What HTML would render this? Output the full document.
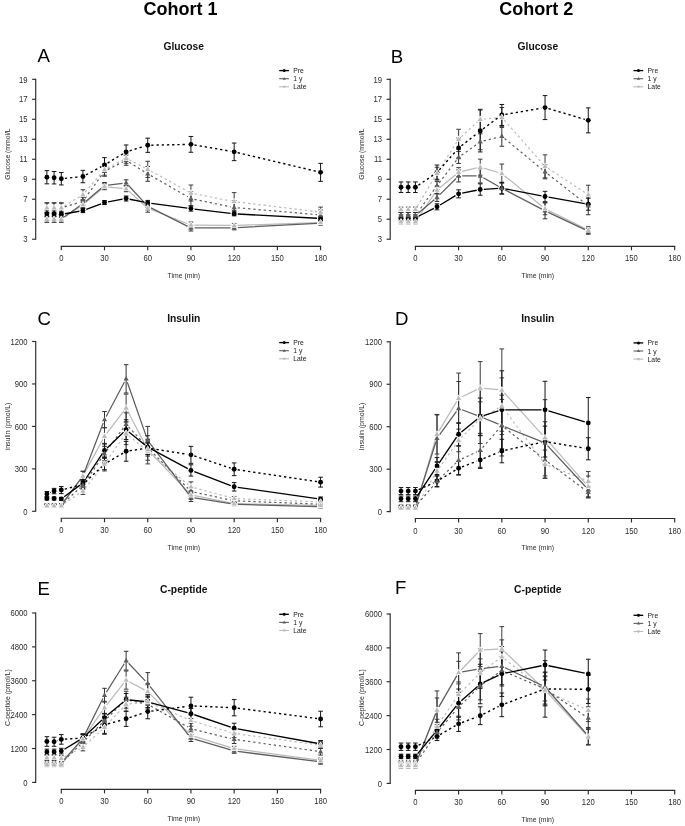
<!DOCTYPE html>
<html><head><meta charset="utf-8"><title>Cohort figure</title>
<style>
html,body{margin:0;padding:0;background:#fff;}
body{width:685px;height:826px;overflow:hidden;}
svg{display:block;will-change:transform;}
text{font-family:"Liberation Sans", sans-serif;}
.ax{stroke:#2a2a2a;stroke-width:1.15;fill:none;stroke-linecap:butt}
.tk{font-size:7.7px;fill:#2b2b2b}
.lab{font-size:7.0px;fill:#2b2b2b}
.lg{font-size:6.8px;fill:#1a1a1a}
.ti{font-size:10.3px;font-weight:bold;fill:#111}
.lt{font-size:18.6px;fill:#000}
.co{font-size:18px;font-weight:bold;fill:#000}
</style></head>
<body>
<svg width="685" height="826" viewBox="0 0 685 826">
<text x="180.6" y="14.5" class="co" text-anchor="middle">Cohort 1</text>
<text x="536.2" y="14.5" class="co" text-anchor="middle">Cohort 2</text>
<path d="M35.7 78.75V239.75" class="ax"/>
<path d="M32.1 239.2H35.7" class="ax"/>
<text transform="translate(27.6 242.4) scale(1.0 1.12)" class="tk" text-anchor="end">3</text>
<path d="M32.1 219.21H35.7" class="ax"/>
<text transform="translate(27.6 222.41) scale(1.0 1.12)" class="tk" text-anchor="end">5</text>
<path d="M32.1 199.22H35.7" class="ax"/>
<text transform="translate(27.6 202.42) scale(1.0 1.12)" class="tk" text-anchor="end">7</text>
<path d="M32.1 179.24H35.7" class="ax"/>
<text transform="translate(27.6 182.44) scale(1.0 1.12)" class="tk" text-anchor="end">9</text>
<path d="M32.1 159.25H35.7" class="ax"/>
<text transform="translate(27.6 162.45) scale(1.0 1.12)" class="tk" text-anchor="end">11</text>
<path d="M32.1 139.26H35.7" class="ax"/>
<text transform="translate(27.6 142.46) scale(1.0 1.12)" class="tk" text-anchor="end">13</text>
<path d="M32.1 119.28H35.7" class="ax"/>
<text transform="translate(27.6 122.48) scale(1.0 1.12)" class="tk" text-anchor="end">15</text>
<path d="M32.1 99.29H35.7" class="ax"/>
<text transform="translate(27.6 102.49) scale(1.0 1.12)" class="tk" text-anchor="end">17</text>
<path d="M32.1 79.3H35.7" class="ax"/>
<text transform="translate(27.6 82.5) scale(1.0 1.12)" class="tk" text-anchor="end">19</text>
<path d="M60.75 246.3H321.14" class="ax"/>
<path d="M61.3 246.3V250.3" class="ax"/>
<text transform="translate(61.3 261.3) scale(1.0 1.12)" class="tk" text-anchor="middle">0</text>
<path d="M104.51 246.3V250.3" class="ax"/>
<text transform="translate(104.51 261.3) scale(1.0 1.12)" class="tk" text-anchor="middle">30</text>
<path d="M147.73 246.3V250.3" class="ax"/>
<text transform="translate(147.73 261.3) scale(1.0 1.12)" class="tk" text-anchor="middle">60</text>
<path d="M190.94 246.3V250.3" class="ax"/>
<text transform="translate(190.94 261.3) scale(1.0 1.12)" class="tk" text-anchor="middle">90</text>
<path d="M234.16 246.3V250.3" class="ax"/>
<text transform="translate(234.16 261.3) scale(1.0 1.12)" class="tk" text-anchor="middle">120</text>
<path d="M277.38 246.3V250.3" class="ax"/>
<text transform="translate(277.38 261.3) scale(1.0 1.12)" class="tk" text-anchor="middle">150</text>
<path d="M320.59 246.3V250.3" class="ax"/>
<text transform="translate(320.59 261.3) scale(1.0 1.12)" class="tk" text-anchor="middle">180</text>
<text transform="translate(183.74 278.1) scale(1.0 1.1)" class="lab" text-anchor="middle" textLength="32.6" lengthAdjust="spacingAndGlyphs">Time (min)</text>
<text transform="translate(9.7 154.1) rotate(-90) scale(1.0 1.1)" class="lab" text-anchor="middle" textLength="51.4" lengthAdjust="spacingAndGlyphs">Glucose (mmol/L</text>
<text x="183.74" y="49.6" class="ti" text-anchor="middle">Glucose</text>
<text x="37.5" y="61.7" class="lt">A</text>
<path d="M279.2 70.6H288.9" stroke="#000000" stroke-width="1.35" fill="none"/>
<circle cx="284.2" cy="70.6" r="1.52" fill="#000000"/>
<text transform="translate(293.3 73.1) scale(1.0 1.1)" class="lg">Pre</text>
<path d="M279.2 78.7H288.9" stroke="#5e5e5e" stroke-width="1.1" fill="none"/>
<path d="M284.2 76.9L285.82 79.78L282.58 79.78Z" fill="#5e5e5e"/>
<text transform="translate(293.3 81.2) scale(1.0 1.1)" class="lg">1 y</text>
<path d="M279.2 86.8H288.9" stroke="#bababa" stroke-width="1.1" fill="none"/>
<path d="M284.2 88.6L285.82 85.72L282.58 85.72Z" fill="#bababa"/>
<text transform="translate(293.3 89.3) scale(1.0 1.1)" class="lg">Late</text>
<path d="M64.38 205.95L79.83 196.59M85.26 192L102.17 172.37M107.7 167.96L122.94 159.93M129.33 159.89L144.53 167.7M150.89 171.07L187.79 191.3M194.48 193.73L230.63 200.92M237.73 202.06L317.02 211.68" stroke="#bababa" stroke-width="1.2" fill="none" stroke-dasharray="2.3 2.9"/>
<path d="M64.29 217.21L79.92 206.73M85.67 202.42L101.75 189.04M108.1 187.06L122.54 188.4M128.8 191.14L145.06 205.81M151.09 209.52L187.59 223.71M194.54 225.04L230.56 225.38M237.76 225.29L316.99 222.73" stroke="#bababa" stroke-width="1.25" fill="none"/>
<path d="M64.73 206.94L79.47 202.3M85.01 198.3L102.41 174.16M107.72 169.61L122.91 161.88M129.17 162.17L144.68 171.92M150.85 175.63L187.82 196.83M194.47 199.35L230.63 206.79M237.75 207.83L317 214.61" stroke="#5e5e5e" stroke-width="1.2" fill="none" stroke-dasharray="2.3 2.9"/>
<path d="M64.24 216.93L79.97 205.8M85.66 201.4L101.76 187.85M108.09 185.09L122.55 183.28M128.57 185.48L145.29 203.58M150.94 207.84L187.73 226.39M194.54 227.99L230.56 227.82M237.75 227.61L317 223.31" stroke="#5e5e5e" stroke-width="1.25" fill="none"/>
<path d="M64.88 178.37L79.33 176.9M86.08 174.84L101.34 166.65M107.59 163.08L123.04 153.72M129.57 150.8L144.29 146.31M151.33 145.18L187.35 144.43M194.49 144.97L230.61 151.24M237.66 152.68L317.09 171.51" stroke="#000000" stroke-width="1.4" fill="none" stroke-dasharray="2.3 2.9"/>
<path d="M64.85 213.71L79.36 211.23M86.28 209.35L101.14 203.79M108.05 201.87L122.58 199.18M129.65 199.24L144.2 202.2M151.3 203.39L187.38 208.15M194.52 209.05L230.59 213.39M237.75 214.01L317 218.22" stroke="#000000" stroke-width="1.35" fill="none"/>
<path d="M46.89 202.82V212.82M44.59 202.82H49.19M44.59 212.82H49.19" stroke="#3c3c3c" stroke-width="1.0" fill="none"/>
<path d="M54.1 202.82V212.82M51.8 202.82H56.4M51.8 212.82H56.4" stroke="#3c3c3c" stroke-width="1.0" fill="none"/>
<path d="M61.3 202.82V212.82M59 202.82H63.6M59 212.82H63.6" stroke="#3c3c3c" stroke-width="1.0" fill="none"/>
<path d="M82.91 189.73V199.72M80.61 189.73H85.21M80.61 199.72H85.21" stroke="#3c3c3c" stroke-width="1.0" fill="none"/>
<path d="M104.51 164.15V175.14M102.21 164.15H106.81M102.21 175.14H106.81" stroke="#3c3c3c" stroke-width="1.0" fill="none"/>
<path d="M126.12 153.25V163.25M123.82 153.25H128.42M123.82 163.25H128.42" stroke="#3c3c3c" stroke-width="1.0" fill="none"/>
<path d="M147.73 161.25V177.44M145.43 161.25H150.03M145.43 177.44H150.03" stroke="#3c3c3c" stroke-width="1.0" fill="none"/>
<path d="M190.94 185.03V201.02M188.64 185.03H193.25M188.64 201.02H193.25" stroke="#3c3c3c" stroke-width="1.0" fill="none"/>
<path d="M234.16 192.63V210.62M231.86 192.63H236.46M231.86 210.62H236.46" stroke="#3c3c3c" stroke-width="1.0" fill="none"/>
<path d="M320.59 207.12V217.11M318.29 207.12H322.89M318.29 217.11H322.89" stroke="#3c3c3c" stroke-width="1.0" fill="none"/>
<path d="M46.89 216.21V222.21M44.59 216.21H49.19M44.59 222.21H49.19" stroke="#3c3c3c" stroke-width="1.0" fill="none"/>
<path d="M54.1 216.21V222.21M51.8 216.21H56.4M51.8 222.21H56.4" stroke="#3c3c3c" stroke-width="1.0" fill="none"/>
<path d="M61.3 216.21V222.21M59 216.21H63.6M59 222.21H63.6" stroke="#3c3c3c" stroke-width="1.0" fill="none"/>
<path d="M82.91 201.22V208.22M80.61 201.22H85.21M80.61 208.22H85.21" stroke="#3c3c3c" stroke-width="1.0" fill="none"/>
<path d="M104.51 183.73V189.73M102.21 183.73H106.81M102.21 189.73H106.81" stroke="#3c3c3c" stroke-width="1.0" fill="none"/>
<path d="M126.12 185.73V191.73M123.82 185.73H128.42M123.82 191.73H128.42" stroke="#3c3c3c" stroke-width="1.0" fill="none"/>
<path d="M147.73 204.22V212.22M145.43 204.22H150.03M145.43 212.22H150.03" stroke="#3c3c3c" stroke-width="1.0" fill="none"/>
<path d="M190.94 222.01V228.01M188.64 222.01H193.25M188.64 228.01H193.25" stroke="#3c3c3c" stroke-width="1.0" fill="none"/>
<path d="M234.16 223.41V227.41M231.86 223.41H236.46M231.86 227.41H236.46" stroke="#3c3c3c" stroke-width="1.0" fill="none"/>
<path d="M320.59 220.61V224.61M318.29 220.61H322.89M318.29 224.61H322.89" stroke="#3c3c3c" stroke-width="1.0" fill="none"/>
<path d="M46.89 203.02V213.02M44.59 203.02H49.19M44.59 213.02H49.19" stroke="#333" stroke-width="1.0" fill="none"/>
<path d="M54.1 203.02V213.02M51.8 203.02H56.4M51.8 213.02H56.4" stroke="#333" stroke-width="1.0" fill="none"/>
<path d="M61.3 203.02V213.02M59 203.02H63.6M59 213.02H63.6" stroke="#333" stroke-width="1.0" fill="none"/>
<path d="M82.91 197.23V205.22M80.61 197.23H85.21M80.61 205.22H85.21" stroke="#333" stroke-width="1.0" fill="none"/>
<path d="M104.51 166.25V176.24M102.21 166.25H106.81M102.21 176.24H106.81" stroke="#333" stroke-width="1.0" fill="none"/>
<path d="M126.12 155.25V165.25M123.82 155.25H128.42M123.82 165.25H128.42" stroke="#333" stroke-width="1.0" fill="none"/>
<path d="M147.73 166.45V181.24M145.43 166.45H150.03M145.43 181.24H150.03" stroke="#333" stroke-width="1.0" fill="none"/>
<path d="M190.94 191.63V205.62M188.64 191.63H193.25M188.64 205.62H193.25" stroke="#333" stroke-width="1.0" fill="none"/>
<path d="M234.16 200.52V214.52M231.86 200.52H236.46M231.86 214.52H236.46" stroke="#333" stroke-width="1.0" fill="none"/>
<path d="M320.59 209.92V219.91M318.29 209.92H322.89M318.29 219.91H322.89" stroke="#333" stroke-width="1.0" fill="none"/>
<path d="M46.89 216.01V222.01M44.59 216.01H49.19M44.59 222.01H49.19" stroke="#333" stroke-width="1.0" fill="none"/>
<path d="M54.1 216.01V222.01M51.8 216.01H56.4M51.8 222.01H56.4" stroke="#333" stroke-width="1.0" fill="none"/>
<path d="M61.3 216.01V222.01M59 216.01H63.6M59 222.01H63.6" stroke="#333" stroke-width="1.0" fill="none"/>
<path d="M82.91 200.22V207.22M80.61 200.22H85.21M80.61 207.22H85.21" stroke="#333" stroke-width="1.0" fill="none"/>
<path d="M104.51 182.54V188.53M102.21 182.54H106.81M102.21 188.53H106.81" stroke="#333" stroke-width="1.0" fill="none"/>
<path d="M126.12 179.84V185.83M123.82 179.84H128.42M123.82 185.83H128.42" stroke="#333" stroke-width="1.0" fill="none"/>
<path d="M147.73 202.22V210.22M145.43 202.22H150.03M145.43 210.22H150.03" stroke="#333" stroke-width="1.0" fill="none"/>
<path d="M190.94 225.01V231.01M188.64 225.01H193.25M188.64 231.01H193.25" stroke="#333" stroke-width="1.0" fill="none"/>
<path d="M234.16 225.81V229.81M231.86 225.81H236.46M231.86 229.81H236.46" stroke="#333" stroke-width="1.0" fill="none"/>
<path d="M320.59 221.11V225.11M318.29 221.11H322.89M318.29 225.11H322.89" stroke="#333" stroke-width="1.0" fill="none"/>
<path d="M46.89 170.64V183.83M44.59 170.64H49.19M44.59 183.83H49.19" stroke="#151515" stroke-width="1.0" fill="none"/>
<path d="M54.1 171.54V183.93M51.8 171.54H56.4M51.8 183.93H56.4" stroke="#151515" stroke-width="1.0" fill="none"/>
<path d="M61.3 172.54V184.93M59 172.54H63.6M59 184.93H63.6" stroke="#151515" stroke-width="1.0" fill="none"/>
<path d="M82.91 170.34V182.74M80.61 170.34H85.21M80.61 182.74H85.21" stroke="#151515" stroke-width="1.0" fill="none"/>
<path d="M104.51 157.65V172.24M102.21 157.65H106.81M102.21 172.24H106.81" stroke="#151515" stroke-width="1.0" fill="none"/>
<path d="M126.12 144.96V158.75M123.82 144.96H128.42M123.82 158.75H128.42" stroke="#151515" stroke-width="1.0" fill="none"/>
<path d="M147.73 138.16V152.35M145.43 138.16H150.03M145.43 152.35H150.03" stroke="#151515" stroke-width="1.0" fill="none"/>
<path d="M190.94 136.46V152.25M188.64 136.46H193.25M188.64 152.25H193.25" stroke="#151515" stroke-width="1.0" fill="none"/>
<path d="M234.16 143.06V160.65M231.86 143.06H236.46M231.86 160.65H236.46" stroke="#151515" stroke-width="1.0" fill="none"/>
<path d="M320.59 163.35V181.34M318.29 163.35H322.89M318.29 181.34H322.89" stroke="#151515" stroke-width="1.0" fill="none"/>
<path d="M46.89 210.92V216.91M44.59 210.92H49.19M44.59 216.91H49.19" stroke="#151515" stroke-width="1.0" fill="none"/>
<path d="M54.1 210.92V216.91M51.8 210.92H56.4M51.8 216.91H56.4" stroke="#151515" stroke-width="1.0" fill="none"/>
<path d="M61.3 211.32V217.31M59 211.32H63.6M59 217.31H63.6" stroke="#151515" stroke-width="1.0" fill="none"/>
<path d="M82.91 208.62V212.62M80.61 208.62H85.21M80.61 212.62H85.21" stroke="#151515" stroke-width="1.0" fill="none"/>
<path d="M104.51 200.52V204.52M102.21 200.52H106.81M102.21 204.52H106.81" stroke="#151515" stroke-width="1.0" fill="none"/>
<path d="M126.12 196.03V201.02M123.82 196.03H128.42M123.82 201.02H128.42" stroke="#151515" stroke-width="1.0" fill="none"/>
<path d="M147.73 200.42V205.42M145.43 200.42H150.03M145.43 205.42H150.03" stroke="#151515" stroke-width="1.0" fill="none"/>
<path d="M190.94 206.12V211.12M188.64 206.12H193.25M188.64 211.12H193.25" stroke="#151515" stroke-width="1.0" fill="none"/>
<path d="M234.16 211.82V215.81M231.86 211.82H236.46M231.86 215.81H236.46" stroke="#151515" stroke-width="1.0" fill="none"/>
<path d="M320.59 216.41V220.41M318.29 216.41H322.89M318.29 220.41H322.89" stroke="#151515" stroke-width="1.0" fill="none"/>
<circle cx="46.89" cy="177.24" r="2.45" fill="#000000"/>
<circle cx="54.1" cy="177.74" r="2.45" fill="#000000"/>
<circle cx="61.3" cy="178.74" r="2.45" fill="#000000"/>
<circle cx="82.91" cy="176.54" r="2.45" fill="#000000"/>
<circle cx="104.51" cy="164.95" r="2.45" fill="#000000"/>
<circle cx="126.12" cy="151.85" r="2.45" fill="#000000"/>
<circle cx="147.73" cy="145.26" r="2.45" fill="#000000"/>
<circle cx="190.94" cy="144.36" r="2.45" fill="#000000"/>
<circle cx="234.16" cy="151.85" r="2.45" fill="#000000"/>
<circle cx="320.59" cy="172.34" r="2.45" fill="#000000"/>
<circle cx="46.89" cy="213.92" r="2.45" fill="#000000"/>
<circle cx="54.1" cy="213.92" r="2.45" fill="#000000"/>
<circle cx="61.3" cy="214.32" r="2.45" fill="#000000"/>
<circle cx="82.91" cy="210.62" r="2.45" fill="#000000"/>
<circle cx="104.51" cy="202.52" r="2.45" fill="#000000"/>
<circle cx="126.12" cy="198.53" r="2.45" fill="#000000"/>
<circle cx="147.73" cy="202.92" r="2.45" fill="#000000"/>
<circle cx="190.94" cy="208.62" r="2.45" fill="#000000"/>
<circle cx="234.16" cy="213.82" r="2.45" fill="#000000"/>
<circle cx="320.59" cy="218.41" r="2.45" fill="#000000"/>
<path d="M46.89 205.12L49.5 209.76L44.28 209.76Z" fill="#5e5e5e"/>
<path d="M54.1 205.12L56.71 209.76L51.49 209.76Z" fill="#5e5e5e"/>
<path d="M61.3 205.12L63.91 209.76L58.69 209.76Z" fill="#5e5e5e"/>
<path d="M82.91 198.32L85.52 202.96L80.3 202.96Z" fill="#5e5e5e"/>
<path d="M104.51 168.34L107.12 172.98L101.9 172.98Z" fill="#5e5e5e"/>
<path d="M126.12 157.35L128.73 161.99L123.51 161.99Z" fill="#5e5e5e"/>
<path d="M147.73 170.94L150.34 175.58L145.12 175.58Z" fill="#5e5e5e"/>
<path d="M190.94 195.73L193.56 200.37L188.33 200.37Z" fill="#5e5e5e"/>
<path d="M234.16 204.62L236.77 209.26L231.55 209.26Z" fill="#5e5e5e"/>
<path d="M320.59 212.02L323.2 216.66L317.98 216.66Z" fill="#5e5e5e"/>
<path d="M46.89 216.11L49.5 220.75L44.28 220.75Z" fill="#5e5e5e"/>
<path d="M54.1 216.11L56.71 220.75L51.49 220.75Z" fill="#5e5e5e"/>
<path d="M61.3 216.11L63.91 220.75L58.69 220.75Z" fill="#5e5e5e"/>
<path d="M82.91 200.82L85.52 205.46L80.3 205.46Z" fill="#5e5e5e"/>
<path d="M104.51 182.63L107.12 187.27L101.9 187.27Z" fill="#5e5e5e"/>
<path d="M126.12 179.94L128.73 184.58L123.51 184.58Z" fill="#5e5e5e"/>
<path d="M147.73 203.32L150.34 207.96L145.12 207.96Z" fill="#5e5e5e"/>
<path d="M190.94 225.11L193.56 229.75L188.33 229.75Z" fill="#5e5e5e"/>
<path d="M234.16 224.91L236.77 229.55L231.55 229.55Z" fill="#5e5e5e"/>
<path d="M320.59 220.21L323.2 224.85L317.98 224.85Z" fill="#5e5e5e"/>
<path d="M46.89 204.92L49.5 209.56L44.28 209.56Z" fill="#bababa" stroke="#fff" stroke-width="1.3" paint-order="stroke" stroke-linejoin="round"/>
<path d="M54.1 204.92L56.71 209.56L51.49 209.56Z" fill="#bababa" stroke="#fff" stroke-width="1.3" paint-order="stroke" stroke-linejoin="round"/>
<path d="M61.3 204.92L63.91 209.56L58.69 209.56Z" fill="#bababa" stroke="#fff" stroke-width="1.3" paint-order="stroke" stroke-linejoin="round"/>
<path d="M82.91 191.83L85.52 196.47L80.3 196.47Z" fill="#bababa" stroke="#fff" stroke-width="1.3" paint-order="stroke" stroke-linejoin="round"/>
<path d="M104.51 166.74L107.12 171.38L101.9 171.38Z" fill="#bababa" stroke="#fff" stroke-width="1.3" paint-order="stroke" stroke-linejoin="round"/>
<path d="M126.12 155.35L128.73 159.99L123.51 159.99Z" fill="#bababa" stroke="#fff" stroke-width="1.3" paint-order="stroke" stroke-linejoin="round"/>
<path d="M147.73 166.44L150.34 171.08L145.12 171.08Z" fill="#bababa" stroke="#fff" stroke-width="1.3" paint-order="stroke" stroke-linejoin="round"/>
<path d="M190.94 190.13L193.56 194.77L188.33 194.77Z" fill="#bababa" stroke="#fff" stroke-width="1.3" paint-order="stroke" stroke-linejoin="round"/>
<path d="M234.16 198.72L236.77 203.36L231.55 203.36Z" fill="#bababa" stroke="#fff" stroke-width="1.3" paint-order="stroke" stroke-linejoin="round"/>
<path d="M320.59 209.22L323.2 213.86L317.98 213.86Z" fill="#bababa" stroke="#fff" stroke-width="1.3" paint-order="stroke" stroke-linejoin="round"/>
<path d="M46.89 216.31L49.5 220.95L44.28 220.95Z" fill="#bababa" stroke="#fff" stroke-width="1.3" paint-order="stroke" stroke-linejoin="round"/>
<path d="M54.1 216.31L56.71 220.95L51.49 220.95Z" fill="#bababa" stroke="#fff" stroke-width="1.3" paint-order="stroke" stroke-linejoin="round"/>
<path d="M61.3 216.31L63.91 220.95L58.69 220.95Z" fill="#bababa" stroke="#fff" stroke-width="1.3" paint-order="stroke" stroke-linejoin="round"/>
<path d="M82.91 201.82L85.52 206.46L80.3 206.46Z" fill="#bababa" stroke="#fff" stroke-width="1.3" paint-order="stroke" stroke-linejoin="round"/>
<path d="M104.51 183.83L107.12 188.47L101.9 188.47Z" fill="#bababa" stroke="#fff" stroke-width="1.3" paint-order="stroke" stroke-linejoin="round"/>
<path d="M126.12 185.83L128.73 190.47L123.51 190.47Z" fill="#bababa" stroke="#fff" stroke-width="1.3" paint-order="stroke" stroke-linejoin="round"/>
<path d="M147.73 205.32L150.34 209.96L145.12 209.96Z" fill="#bababa" stroke="#fff" stroke-width="1.3" paint-order="stroke" stroke-linejoin="round"/>
<path d="M190.94 222.11L193.56 226.75L188.33 226.75Z" fill="#bababa" stroke="#fff" stroke-width="1.3" paint-order="stroke" stroke-linejoin="round"/>
<path d="M234.16 222.51L236.77 227.15L231.55 227.15Z" fill="#bababa" stroke="#fff" stroke-width="1.3" paint-order="stroke" stroke-linejoin="round"/>
<path d="M320.59 219.71L323.2 224.35L317.98 224.35Z" fill="#bababa" stroke="#fff" stroke-width="1.3" paint-order="stroke" stroke-linejoin="round"/>
<path d="M390.2 78.75V239.75" class="ax"/>
<path d="M386.6 239.2H390.2" class="ax"/>
<text transform="translate(382.1 242.4) scale(1.0 1.12)" class="tk" text-anchor="end">3</text>
<path d="M386.6 219.21H390.2" class="ax"/>
<text transform="translate(382.1 222.41) scale(1.0 1.12)" class="tk" text-anchor="end">5</text>
<path d="M386.6 199.22H390.2" class="ax"/>
<text transform="translate(382.1 202.42) scale(1.0 1.12)" class="tk" text-anchor="end">7</text>
<path d="M386.6 179.24H390.2" class="ax"/>
<text transform="translate(382.1 182.44) scale(1.0 1.12)" class="tk" text-anchor="end">9</text>
<path d="M386.6 159.25H390.2" class="ax"/>
<text transform="translate(382.1 162.45) scale(1.0 1.12)" class="tk" text-anchor="end">11</text>
<path d="M386.6 139.26H390.2" class="ax"/>
<text transform="translate(382.1 142.46) scale(1.0 1.12)" class="tk" text-anchor="end">13</text>
<path d="M386.6 119.28H390.2" class="ax"/>
<text transform="translate(382.1 122.48) scale(1.0 1.12)" class="tk" text-anchor="end">15</text>
<path d="M386.6 99.29H390.2" class="ax"/>
<text transform="translate(382.1 102.49) scale(1.0 1.12)" class="tk" text-anchor="end">17</text>
<path d="M386.6 79.3H390.2" class="ax"/>
<text transform="translate(382.1 82.5) scale(1.0 1.12)" class="tk" text-anchor="end">19</text>
<path d="M414.85 246.3H675.24" class="ax"/>
<path d="M415.4 246.3V250.3" class="ax"/>
<text transform="translate(415.4 261.3) scale(1.0 1.12)" class="tk" text-anchor="middle">0</text>
<path d="M458.61 246.3V250.3" class="ax"/>
<text transform="translate(458.61 261.3) scale(1.0 1.12)" class="tk" text-anchor="middle">30</text>
<path d="M501.83 246.3V250.3" class="ax"/>
<text transform="translate(501.83 261.3) scale(1.0 1.12)" class="tk" text-anchor="middle">60</text>
<path d="M545.04 246.3V250.3" class="ax"/>
<text transform="translate(545.04 261.3) scale(1.0 1.12)" class="tk" text-anchor="middle">90</text>
<path d="M588.26 246.3V250.3" class="ax"/>
<text transform="translate(588.26 261.3) scale(1.0 1.12)" class="tk" text-anchor="middle">120</text>
<path d="M631.47 246.3V250.3" class="ax"/>
<text transform="translate(631.47 261.3) scale(1.0 1.12)" class="tk" text-anchor="middle">150</text>
<path d="M674.69 246.3V250.3" class="ax"/>
<text transform="translate(674.69 261.3) scale(1.0 1.12)" class="tk" text-anchor="middle">180</text>
<text transform="translate(537.84 278.1) scale(1.0 1.1)" class="lab" text-anchor="middle" textLength="32.6" lengthAdjust="spacingAndGlyphs">Time (min)</text>
<text transform="translate(364.2 154.1) rotate(-90) scale(1.0 1.1)" class="lab" text-anchor="middle" textLength="51.4" lengthAdjust="spacingAndGlyphs">Glucose (mmol/L</text>
<text x="537.84" y="49.6" class="ti" text-anchor="middle">Glucose</text>
<text x="390.8" y="62.8" class="lt">B</text>
<path d="M633.5 70.6H643.2" stroke="#000000" stroke-width="1.35" fill="none"/>
<circle cx="638.5" cy="70.6" r="1.52" fill="#000000"/>
<text transform="translate(647.6 73.1) scale(1.0 1.1)" class="lg">Pre</text>
<path d="M633.5 78.7H643.2" stroke="#5e5e5e" stroke-width="1.1" fill="none"/>
<path d="M638.5 76.9L640.12 79.78L636.88 79.78Z" fill="#5e5e5e"/>
<text transform="translate(647.6 81.2) scale(1.0 1.1)" class="lg">1 y</text>
<path d="M633.5 86.8H643.2" stroke="#bababa" stroke-width="1.1" fill="none"/>
<path d="M638.5 88.6L640.12 85.72L636.88 85.72Z" fill="#bababa"/>
<text transform="translate(647.6 89.3) scale(1.0 1.1)" class="lg">Late</text>
<path d="M417.24 206.52L435.17 176.34M438.94 170.2L456.68 142.3M461.26 136.82L477.58 121.72M483.81 118.98L498.24 117.77M504.21 120.17L542.66 163.65M548.05 168.32L585.25 192.75" stroke="#bababa" stroke-width="1.2" fill="none" stroke-dasharray="2.3 2.9"/>
<path d="M417.43 218.74L434.98 193M439.78 187.73L455.84 174.44M462.12 171.33L476.72 167.96M483.67 168.17L498.38 172.52M504.62 175.81L542.25 206.45M548.27 210.32L585.04 228.6" stroke="#bababa" stroke-width="1.25" fill="none"/>
<path d="M417.51 212.6L434.9 188.55M439.2 182.78L456.42 160.31M461.53 155.34L477.31 143.88M483.71 140.87L498.34 137.15M504.61 138.55L542.27 169.55M547.88 174.06L585.43 203.5" stroke="#5e5e5e" stroke-width="1.2" fill="none" stroke-dasharray="2.3 2.9"/>
<path d="M418.16 213.2L434.25 199.74M439.56 194.89L456.06 178.48M462.21 175.94L476.62 175.94M483.35 177.72L498.7 186.45M505.02 189.9L541.85 209.15M548.3 212.35L585 229.67" stroke="#5e5e5e" stroke-width="1.25" fill="none"/>
<path d="M418.38 185.21L434.03 174.57M439.39 169.84L456.23 150.76M461.44 145.82L477.4 133.2M483.12 128.83L498.94 117.12M505.38 114.37L541.5 108.19M548.5 108.6L584.81 119.35" stroke="#000000" stroke-width="1.4" fill="none" stroke-dasharray="2.3 2.9"/>
<path d="M418.6 216.27L433.8 208.46M440.09 204.97L455.53 195.68M462.15 193.13L476.69 190.23M483.82 189.31L498.24 188.45M505.37 188.91L541.51 195.85M548.59 197.16L584.72 203.59" stroke="#000000" stroke-width="1.35" fill="none"/>
<path d="M401 207.12V212.12M398.69 207.12H403.3M398.69 212.12H403.3" stroke="#3c3c3c" stroke-width="1.0" fill="none"/>
<path d="M408.2 207.12V212.12M405.9 207.12H410.5M405.9 212.12H410.5" stroke="#3c3c3c" stroke-width="1.0" fill="none"/>
<path d="M415.4 207.12V212.12M413.1 207.12H417.7M413.1 212.12H417.7" stroke="#3c3c3c" stroke-width="1.0" fill="none"/>
<path d="M437.01 167.25V179.24M434.71 167.25H439.31M434.71 179.24H439.31" stroke="#3c3c3c" stroke-width="1.0" fill="none"/>
<path d="M458.61 129.27V149.26M456.31 129.27H460.91M456.31 149.26H460.91" stroke="#3c3c3c" stroke-width="1.0" fill="none"/>
<path d="M480.22 109.28V129.27M477.92 109.28H482.52M477.92 129.27H482.52" stroke="#3c3c3c" stroke-width="1.0" fill="none"/>
<path d="M501.83 107.48V127.47M499.53 107.48H504.13M499.53 127.47H504.13" stroke="#3c3c3c" stroke-width="1.0" fill="none"/>
<path d="M545.04 154.85V177.84M542.75 154.85H547.34M542.75 177.84H547.34" stroke="#3c3c3c" stroke-width="1.0" fill="none"/>
<path d="M588.26 185.23V204.22M585.96 185.23H590.56M585.96 204.22H590.56" stroke="#3c3c3c" stroke-width="1.0" fill="none"/>
<path d="M401 219.71V223.71M398.69 219.71H403.3M398.69 223.71H403.3" stroke="#3c3c3c" stroke-width="1.0" fill="none"/>
<path d="M408.2 219.71V223.71M405.9 219.71H410.5M405.9 223.71H410.5" stroke="#3c3c3c" stroke-width="1.0" fill="none"/>
<path d="M415.4 219.71V223.71M413.1 219.71H417.7M413.1 223.71H417.7" stroke="#3c3c3c" stroke-width="1.0" fill="none"/>
<path d="M437.01 186.03V194.03M434.71 186.03H439.31M434.71 194.03H439.31" stroke="#3c3c3c" stroke-width="1.0" fill="none"/>
<path d="M458.61 167.64V176.64M456.31 167.64H460.91M456.31 176.64H460.91" stroke="#3c3c3c" stroke-width="1.0" fill="none"/>
<path d="M480.22 159.15V175.14M477.92 159.15H482.52M477.92 175.14H482.52" stroke="#3c3c3c" stroke-width="1.0" fill="none"/>
<path d="M501.83 164.05V183.04M499.53 164.05H504.13M499.53 183.04H504.13" stroke="#3c3c3c" stroke-width="1.0" fill="none"/>
<path d="M545.04 202.72V214.72M542.75 202.72H547.34M542.75 214.72H547.34" stroke="#3c3c3c" stroke-width="1.0" fill="none"/>
<path d="M588.26 226.71V233.7M585.96 226.71H590.56M585.96 233.7H590.56" stroke="#3c3c3c" stroke-width="1.0" fill="none"/>
<path d="M401 212.52V218.51M398.69 212.52H403.3M398.69 218.51H403.3" stroke="#333" stroke-width="1.0" fill="none"/>
<path d="M408.2 212.52V218.51M405.9 212.52H410.5M405.9 218.51H410.5" stroke="#333" stroke-width="1.0" fill="none"/>
<path d="M415.4 212.52V218.51M413.1 212.52H417.7M413.1 218.51H417.7" stroke="#333" stroke-width="1.0" fill="none"/>
<path d="M437.01 181.64V189.63M434.71 181.64H439.31M434.71 189.63H439.31" stroke="#333" stroke-width="1.0" fill="none"/>
<path d="M458.61 151.45V163.45M456.31 151.45H460.91M456.31 163.45H460.91" stroke="#333" stroke-width="1.0" fill="none"/>
<path d="M480.22 133.77V149.76M477.92 133.77H482.52M477.92 149.76H482.52" stroke="#333" stroke-width="1.0" fill="none"/>
<path d="M501.83 126.27V146.26M499.53 126.27H504.13M499.53 146.26H504.13" stroke="#333" stroke-width="1.0" fill="none"/>
<path d="M545.04 164.85V178.84M542.75 164.85H547.34M542.75 178.84H547.34" stroke="#333" stroke-width="1.0" fill="none"/>
<path d="M588.26 196.73V214.72M585.96 196.73H590.56M585.96 214.72H590.56" stroke="#333" stroke-width="1.0" fill="none"/>
<path d="M401 212.52V218.51M398.69 212.52H403.3M398.69 218.51H403.3" stroke="#333" stroke-width="1.0" fill="none"/>
<path d="M408.2 212.52V218.51M405.9 212.52H410.5M405.9 218.51H410.5" stroke="#333" stroke-width="1.0" fill="none"/>
<path d="M415.4 212.52V218.51M413.1 212.52H417.7M413.1 218.51H417.7" stroke="#333" stroke-width="1.0" fill="none"/>
<path d="M437.01 193.43V201.42M434.71 193.43H439.31M434.71 201.42H439.31" stroke="#333" stroke-width="1.0" fill="none"/>
<path d="M458.61 169.94V181.94M456.31 169.94H460.91M456.31 181.94H460.91" stroke="#333" stroke-width="1.0" fill="none"/>
<path d="M480.22 168.94V182.94M477.92 168.94H482.52M477.92 182.94H482.52" stroke="#333" stroke-width="1.0" fill="none"/>
<path d="M501.83 182.24V194.23M499.53 182.24H504.13M499.53 194.23H504.13" stroke="#333" stroke-width="1.0" fill="none"/>
<path d="M545.04 202.82V218.81M542.75 202.82H547.34M542.75 218.81H547.34" stroke="#333" stroke-width="1.0" fill="none"/>
<path d="M588.26 228.21V234.2M585.96 228.21H590.56M585.96 234.2H590.56" stroke="#333" stroke-width="1.0" fill="none"/>
<path d="M401 181.94V192.53M398.69 181.94H403.3M398.69 192.53H403.3" stroke="#151515" stroke-width="1.0" fill="none"/>
<path d="M408.2 181.94V192.53M405.9 181.94H410.5M405.9 192.53H410.5" stroke="#151515" stroke-width="1.0" fill="none"/>
<path d="M415.4 181.94V192.53M413.1 181.94H417.7M413.1 192.53H417.7" stroke="#151515" stroke-width="1.0" fill="none"/>
<path d="M437.01 165.05V180.04M434.71 165.05H439.31M434.71 180.04H439.31" stroke="#151515" stroke-width="1.0" fill="none"/>
<path d="M458.61 138.06V158.05M456.31 138.06H460.91M456.31 158.05H460.91" stroke="#151515" stroke-width="1.0" fill="none"/>
<path d="M480.22 109.98V151.95M477.92 109.98H482.52M477.92 151.95H482.52" stroke="#151515" stroke-width="1.0" fill="none"/>
<path d="M501.83 104.48V125.47M499.53 104.48H504.13M499.53 125.47H504.13" stroke="#151515" stroke-width="1.0" fill="none"/>
<path d="M545.04 95.59V119.57M542.75 95.59H547.34M542.75 119.57H547.34" stroke="#151515" stroke-width="1.0" fill="none"/>
<path d="M588.26 107.88V132.87M585.96 107.88H590.56M585.96 132.87H590.56" stroke="#151515" stroke-width="1.0" fill="none"/>
<path d="M401 214.92V220.91M398.69 214.92H403.3M398.69 220.91H403.3" stroke="#151515" stroke-width="1.0" fill="none"/>
<path d="M408.2 214.92V220.91M405.9 214.92H410.5M405.9 220.91H410.5" stroke="#151515" stroke-width="1.0" fill="none"/>
<path d="M415.4 214.92V220.91M413.1 214.92H417.7M413.1 220.91H417.7" stroke="#151515" stroke-width="1.0" fill="none"/>
<path d="M437.01 203.82V209.82M434.71 203.82H439.31M434.71 209.82H439.31" stroke="#151515" stroke-width="1.0" fill="none"/>
<path d="M458.61 189.83V197.83M456.31 189.83H460.91M456.31 197.83H460.91" stroke="#151515" stroke-width="1.0" fill="none"/>
<path d="M480.22 183.83V195.23M477.92 183.83H482.52M477.92 195.23H482.52" stroke="#151515" stroke-width="1.0" fill="none"/>
<path d="M501.83 182.74V193.73M499.53 182.74H504.13M499.53 193.73H504.13" stroke="#151515" stroke-width="1.0" fill="none"/>
<path d="M545.04 191.33V201.72M542.75 191.33H547.34M542.75 201.72H547.34" stroke="#151515" stroke-width="1.0" fill="none"/>
<path d="M588.26 198.23V210.22M585.96 198.23H590.56M585.96 210.22H590.56" stroke="#151515" stroke-width="1.0" fill="none"/>
<circle cx="401" cy="187.23" r="2.45" fill="#000000"/>
<circle cx="408.2" cy="187.23" r="2.45" fill="#000000"/>
<circle cx="415.4" cy="187.23" r="2.45" fill="#000000"/>
<circle cx="437.01" cy="172.54" r="2.45" fill="#000000"/>
<circle cx="458.61" cy="148.06" r="2.45" fill="#000000"/>
<circle cx="480.22" cy="130.97" r="2.45" fill="#000000"/>
<circle cx="501.83" cy="114.98" r="2.45" fill="#000000"/>
<circle cx="545.04" cy="107.58" r="2.45" fill="#000000"/>
<circle cx="588.26" cy="120.37" r="2.45" fill="#000000"/>
<circle cx="401" cy="217.91" r="2.45" fill="#000000"/>
<circle cx="408.2" cy="217.91" r="2.45" fill="#000000"/>
<circle cx="415.4" cy="217.91" r="2.45" fill="#000000"/>
<circle cx="437.01" cy="206.82" r="2.45" fill="#000000"/>
<circle cx="458.61" cy="193.83" r="2.45" fill="#000000"/>
<circle cx="480.22" cy="189.53" r="2.45" fill="#000000"/>
<circle cx="501.83" cy="188.23" r="2.45" fill="#000000"/>
<circle cx="545.04" cy="196.53" r="2.45" fill="#000000"/>
<circle cx="588.26" cy="204.22" r="2.45" fill="#000000"/>
<path d="M401 212.61L403.61 217.25L398.38 217.25Z" fill="#5e5e5e"/>
<path d="M408.2 212.61L410.81 217.25L405.59 217.25Z" fill="#5e5e5e"/>
<path d="M415.4 212.61L418.01 217.25L412.79 217.25Z" fill="#5e5e5e"/>
<path d="M437.01 182.73L439.62 187.37L434.4 187.37Z" fill="#5e5e5e"/>
<path d="M458.61 154.55L461.22 159.19L456 159.19Z" fill="#5e5e5e"/>
<path d="M480.22 138.86L482.83 143.5L477.61 143.5Z" fill="#5e5e5e"/>
<path d="M501.83 133.36L504.44 138L499.22 138Z" fill="#5e5e5e"/>
<path d="M545.04 168.94L547.65 173.58L542.43 173.58Z" fill="#5e5e5e"/>
<path d="M588.26 202.82L590.87 207.46L585.65 207.46Z" fill="#5e5e5e"/>
<path d="M401 212.61L403.61 217.25L398.38 217.25Z" fill="#5e5e5e"/>
<path d="M408.2 212.61L410.81 217.25L405.59 217.25Z" fill="#5e5e5e"/>
<path d="M415.4 212.61L418.01 217.25L412.79 217.25Z" fill="#5e5e5e"/>
<path d="M437.01 194.53L439.62 199.17L434.4 199.17Z" fill="#5e5e5e"/>
<path d="M458.61 173.04L461.22 177.68L456 177.68Z" fill="#5e5e5e"/>
<path d="M480.22 173.04L482.83 177.68L477.61 177.68Z" fill="#5e5e5e"/>
<path d="M501.83 185.33L504.44 189.97L499.22 189.97Z" fill="#5e5e5e"/>
<path d="M545.04 207.92L547.65 212.56L542.43 212.56Z" fill="#5e5e5e"/>
<path d="M588.26 228.3L590.87 232.94L585.65 232.94Z" fill="#5e5e5e"/>
<path d="M401 206.72L403.61 211.36L398.38 211.36Z" fill="#bababa" stroke="#fff" stroke-width="1.3" paint-order="stroke" stroke-linejoin="round"/>
<path d="M408.2 206.72L410.81 211.36L405.59 211.36Z" fill="#bababa" stroke="#fff" stroke-width="1.3" paint-order="stroke" stroke-linejoin="round"/>
<path d="M415.4 206.72L418.01 211.36L412.79 211.36Z" fill="#bababa" stroke="#fff" stroke-width="1.3" paint-order="stroke" stroke-linejoin="round"/>
<path d="M437.01 170.34L439.62 174.98L434.4 174.98Z" fill="#bababa" stroke="#fff" stroke-width="1.3" paint-order="stroke" stroke-linejoin="round"/>
<path d="M458.61 136.36L461.22 141L456 141Z" fill="#bababa" stroke="#fff" stroke-width="1.3" paint-order="stroke" stroke-linejoin="round"/>
<path d="M480.22 116.38L482.83 121.02L477.61 121.02Z" fill="#bababa" stroke="#fff" stroke-width="1.3" paint-order="stroke" stroke-linejoin="round"/>
<path d="M501.83 114.58L504.44 119.22L499.22 119.22Z" fill="#bababa" stroke="#fff" stroke-width="1.3" paint-order="stroke" stroke-linejoin="round"/>
<path d="M545.04 163.45L547.65 168.09L542.43 168.09Z" fill="#bababa" stroke="#fff" stroke-width="1.3" paint-order="stroke" stroke-linejoin="round"/>
<path d="M588.26 191.83L590.87 196.47L585.65 196.47Z" fill="#bababa" stroke="#fff" stroke-width="1.3" paint-order="stroke" stroke-linejoin="round"/>
<path d="M401 218.81L403.61 223.45L398.38 223.45Z" fill="#bababa" stroke="#fff" stroke-width="1.3" paint-order="stroke" stroke-linejoin="round"/>
<path d="M408.2 218.81L410.81 223.45L405.59 223.45Z" fill="#bababa" stroke="#fff" stroke-width="1.3" paint-order="stroke" stroke-linejoin="round"/>
<path d="M415.4 218.81L418.01 223.45L412.79 223.45Z" fill="#bababa" stroke="#fff" stroke-width="1.3" paint-order="stroke" stroke-linejoin="round"/>
<path d="M437.01 187.13L439.62 191.77L434.4 191.77Z" fill="#bababa" stroke="#fff" stroke-width="1.3" paint-order="stroke" stroke-linejoin="round"/>
<path d="M458.61 169.24L461.22 173.88L456 173.88Z" fill="#bababa" stroke="#fff" stroke-width="1.3" paint-order="stroke" stroke-linejoin="round"/>
<path d="M480.22 164.25L482.83 168.89L477.61 168.89Z" fill="#bababa" stroke="#fff" stroke-width="1.3" paint-order="stroke" stroke-linejoin="round"/>
<path d="M501.83 170.64L504.44 175.28L499.22 175.28Z" fill="#bababa" stroke="#fff" stroke-width="1.3" paint-order="stroke" stroke-linejoin="round"/>
<path d="M545.04 205.82L547.65 210.46L542.43 210.46Z" fill="#bababa" stroke="#fff" stroke-width="1.3" paint-order="stroke" stroke-linejoin="round"/>
<path d="M588.26 227.31L590.87 231.95L585.65 231.95Z" fill="#bababa" stroke="#fff" stroke-width="1.3" paint-order="stroke" stroke-linejoin="round"/>
<path d="M35.7 340.95V511.85" class="ax"/>
<path d="M32.1 511.3H35.7" class="ax"/>
<text transform="translate(27.6 514.5) scale(1.0 1.12)" class="tk" text-anchor="end">0</text>
<path d="M32.1 468.85H35.7" class="ax"/>
<text transform="translate(27.6 472.05) scale(1.0 1.12)" class="tk" text-anchor="end">300</text>
<path d="M32.1 426.4H35.7" class="ax"/>
<text transform="translate(27.6 429.6) scale(1.0 1.12)" class="tk" text-anchor="end">600</text>
<path d="M32.1 383.95H35.7" class="ax"/>
<text transform="translate(27.6 387.15) scale(1.0 1.12)" class="tk" text-anchor="end">900</text>
<path d="M32.1 341.5H35.7" class="ax"/>
<text transform="translate(27.6 344.7) scale(1.0 1.12)" class="tk" text-anchor="end">1200</text>
<path d="M60.75 518.2H321.14" class="ax"/>
<path d="M61.3 518.2V522.2" class="ax"/>
<text transform="translate(61.3 533.2) scale(1.0 1.12)" class="tk" text-anchor="middle">0</text>
<path d="M104.51 518.2V522.2" class="ax"/>
<text transform="translate(104.51 533.2) scale(1.0 1.12)" class="tk" text-anchor="middle">30</text>
<path d="M147.73 518.2V522.2" class="ax"/>
<text transform="translate(147.73 533.2) scale(1.0 1.12)" class="tk" text-anchor="middle">60</text>
<path d="M190.94 518.2V522.2" class="ax"/>
<text transform="translate(190.94 533.2) scale(1.0 1.12)" class="tk" text-anchor="middle">90</text>
<path d="M234.16 518.2V522.2" class="ax"/>
<text transform="translate(234.16 533.2) scale(1.0 1.12)" class="tk" text-anchor="middle">120</text>
<path d="M277.38 518.2V522.2" class="ax"/>
<text transform="translate(277.38 533.2) scale(1.0 1.12)" class="tk" text-anchor="middle">150</text>
<path d="M320.59 518.2V522.2" class="ax"/>
<text transform="translate(320.59 533.2) scale(1.0 1.12)" class="tk" text-anchor="middle">180</text>
<text transform="translate(183.74 550) scale(1.0 1.1)" class="lab" text-anchor="middle" textLength="32.6" lengthAdjust="spacingAndGlyphs">Time (min)</text>
<text transform="translate(9.7 426.5) rotate(-90) scale(1.0 1.1)" class="lab" text-anchor="middle" textLength="47.8" lengthAdjust="spacingAndGlyphs">insulin (pmol/L)</text>
<text x="183.74" y="321.8" class="ti" text-anchor="middle">Insulin</text>
<text x="37.4" y="325" class="lt">C</text>
<path d="M279.2 342.6H288.9" stroke="#000000" stroke-width="1.35" fill="none"/>
<circle cx="284.2" cy="342.6" r="1.52" fill="#000000"/>
<text transform="translate(293.3 345.1) scale(1.0 1.1)" class="lg">Pre</text>
<path d="M279.2 350.7H288.9" stroke="#5e5e5e" stroke-width="1.1" fill="none"/>
<path d="M284.2 348.9L285.82 351.78L282.58 351.78Z" fill="#5e5e5e"/>
<text transform="translate(293.3 353.2) scale(1.0 1.1)" class="lg">1 y</text>
<path d="M279.2 358.8H288.9" stroke="#bababa" stroke-width="1.1" fill="none"/>
<path d="M284.2 360.6L285.82 357.72L282.58 357.72Z" fill="#bababa"/>
<text transform="translate(293.3 361.3) scale(1.0 1.1)" class="lg">Late</text>
<path d="M64.28 503.63L79.92 493.08M85.15 488.25L102.27 466.72M106.59 460.96L124.04 436.27M128.86 435.67L144.99 449.39M150.52 454L188.15 484.55M194.42 487.76L230.69 497.62M237.76 498.71L316.99 501.82" stroke="#bababa" stroke-width="1.2" fill="none" stroke-dasharray="2.3 2.9"/>
<path d="M63.42 502.73L80.78 478.97M84.63 472.9L102.8 439.47M106.7 433.44L123.94 410.87M127.78 411.2L146.08 446.55M150.22 452.35L188.46 492.42M194.48 495.73L230.63 502.95M237.76 503.74L316.99 505.42" stroke="#bababa" stroke-width="1.25" fill="none"/>
<path d="M63.96 502.51L80.25 487.69M84.94 482.29L102.48 456.68M106.64 450.8L124 427.04M128.56 426.79L145.29 444.98M150.26 450.19L188.42 488.93M194.46 492.25L230.64 500.07M237.76 500.97L316.99 504.08" stroke="#5e5e5e" stroke-width="1.2" fill="none" stroke-dasharray="2.3 2.9"/>
<path d="M63.46 502.05L80.75 478.95M84.19 472.7L103.23 422.97M106.2 416.43L124.44 382.04M127.31 382.25L146.54 437.15M149.91 443.41L188.76 494.43M194.5 497.86L230.61 503.65M237.76 504.33L316.99 506.53" stroke="#5e5e5e" stroke-width="1.25" fill="none"/>
<path d="M50.22 492.66L50.77 492.44M64.78 489.16L79.42 485.33M85.53 481.95L101.9 466.51M107.62 462.21L123.02 453.13M129.68 450.77L144.17 448.59M151.29 448.61L187.39 454.28M194.36 455.98L230.75 468.13M237.72 469.8L317.03 481.62" stroke="#000000" stroke-width="1.4" fill="none" stroke-dasharray="2.3 2.9"/>
<path d="M64.2 496.72L80 485.13M84.9 480L102.52 453.45M107.11 447.96L123.53 432.15M128.92 431.92L144.94 444.93M150.9 448.9L187.77 468.7M194.31 471.68L230.79 485.54M237.72 487.33L317.03 498.62" stroke="#000000" stroke-width="1.35" fill="none"/>
<path d="M46.89 504.51V506.77M44.59 504.51H49.19M44.59 506.77H49.19" stroke="#3c3c3c" stroke-width="1.0" fill="none"/>
<path d="M54.1 504.51V506.77M51.8 504.51H56.4M51.8 506.77H56.4" stroke="#3c3c3c" stroke-width="1.0" fill="none"/>
<path d="M61.3 504.51V506.77M59 504.51H63.6M59 506.77H63.6" stroke="#3c3c3c" stroke-width="1.0" fill="none"/>
<path d="M82.91 487.67V494.46M80.61 487.67H85.21M80.61 494.46H85.21" stroke="#3c3c3c" stroke-width="1.0" fill="none"/>
<path d="M104.51 456.82V470.97M102.21 456.82H106.81M102.21 470.97H106.81" stroke="#3c3c3c" stroke-width="1.0" fill="none"/>
<path d="M126.12 422.01V444.65M123.82 422.01H128.42M123.82 444.65H128.42" stroke="#3c3c3c" stroke-width="1.0" fill="none"/>
<path d="M147.73 443.24V460.22M145.43 443.24H150.03M145.43 460.22H150.03" stroke="#3c3c3c" stroke-width="1.0" fill="none"/>
<path d="M190.94 481.87V491.77M188.64 481.87H193.25M188.64 491.77H193.25" stroke="#3c3c3c" stroke-width="1.0" fill="none"/>
<path d="M234.16 496.44V500.69M231.86 496.44H236.46M231.86 500.69H236.46" stroke="#3c3c3c" stroke-width="1.0" fill="none"/>
<path d="M320.59 500.55V503.38M318.29 500.55H322.89M318.29 503.38H322.89" stroke="#3c3c3c" stroke-width="1.0" fill="none"/>
<path d="M46.89 504.51V506.77M44.59 504.51H49.19M44.59 506.77H49.19" stroke="#3c3c3c" stroke-width="1.0" fill="none"/>
<path d="M54.1 504.51V506.77M51.8 504.51H56.4M51.8 506.77H56.4" stroke="#3c3c3c" stroke-width="1.0" fill="none"/>
<path d="M61.3 504.51V506.77M59 504.51H63.6M59 506.77H63.6" stroke="#3c3c3c" stroke-width="1.0" fill="none"/>
<path d="M82.91 471.26V480.88M80.61 471.26H85.21M80.61 480.88H85.21" stroke="#3c3c3c" stroke-width="1.0" fill="none"/>
<path d="M104.51 427.81V444.8M102.21 427.81H106.81M102.21 444.8H106.81" stroke="#3c3c3c" stroke-width="1.0" fill="none"/>
<path d="M126.12 394.14V421.87M123.82 394.14H128.42M123.82 421.87H128.42" stroke="#3c3c3c" stroke-width="1.0" fill="none"/>
<path d="M147.73 435.6V463.9M145.43 435.6H150.03M145.43 463.9H150.03" stroke="#3c3c3c" stroke-width="1.0" fill="none"/>
<path d="M190.94 490.78V499.27M188.64 490.78H193.25M188.64 499.27H193.25" stroke="#3c3c3c" stroke-width="1.0" fill="none"/>
<path d="M234.16 502.24V505.07M231.86 502.24H236.46M231.86 505.07H236.46" stroke="#3c3c3c" stroke-width="1.0" fill="none"/>
<path d="M320.59 504.37V506.63M318.29 504.37H322.89M318.29 506.63H322.89" stroke="#3c3c3c" stroke-width="1.0" fill="none"/>
<path d="M46.89 503.8V506.06M44.59 503.8H49.19M44.59 506.06H49.19" stroke="#333" stroke-width="1.0" fill="none"/>
<path d="M54.1 503.8V506.06M51.8 503.8H56.4M51.8 506.06H56.4" stroke="#333" stroke-width="1.0" fill="none"/>
<path d="M61.3 503.8V506.06M59 503.8H63.6M59 506.06H63.6" stroke="#333" stroke-width="1.0" fill="none"/>
<path d="M82.91 481.02V489.51M80.61 481.02H85.21M80.61 489.51H85.21" stroke="#333" stroke-width="1.0" fill="none"/>
<path d="M104.51 446.63V460.78M102.21 446.63H106.81M102.21 460.78H106.81" stroke="#333" stroke-width="1.0" fill="none"/>
<path d="M126.12 412.82V435.46M123.82 412.82H128.42M123.82 435.46H128.42" stroke="#333" stroke-width="1.0" fill="none"/>
<path d="M147.73 439.13V456.12M145.43 439.13H150.03M145.43 456.12H150.03" stroke="#333" stroke-width="1.0" fill="none"/>
<path d="M190.94 487.25V495.74M188.64 487.25H193.25M188.64 495.74H193.25" stroke="#333" stroke-width="1.0" fill="none"/>
<path d="M234.16 498.71V502.95M231.86 498.71H236.46M231.86 502.95H236.46" stroke="#333" stroke-width="1.0" fill="none"/>
<path d="M320.59 502.81V505.64M318.29 502.81H322.89M318.29 505.64H322.89" stroke="#333" stroke-width="1.0" fill="none"/>
<path d="M46.89 503.8V506.06M44.59 503.8H49.19M44.59 506.06H49.19" stroke="#333" stroke-width="1.0" fill="none"/>
<path d="M54.1 503.8V506.06M51.8 503.8H56.4M51.8 506.06H56.4" stroke="#333" stroke-width="1.0" fill="none"/>
<path d="M61.3 503.8V506.06M59 503.8H63.6M59 506.06H63.6" stroke="#333" stroke-width="1.0" fill="none"/>
<path d="M82.91 471.26V480.88M80.61 471.26H85.21M80.61 480.88H85.21" stroke="#333" stroke-width="1.0" fill="none"/>
<path d="M104.51 411.54V427.67M102.21 411.54H106.81M102.21 427.67H106.81" stroke="#333" stroke-width="1.0" fill="none"/>
<path d="M126.12 364.71V393.01M123.82 364.71H128.42M123.82 393.01H128.42" stroke="#333" stroke-width="1.0" fill="none"/>
<path d="M147.73 426.4V454.7M145.43 426.4H150.03M145.43 454.7H150.03" stroke="#333" stroke-width="1.0" fill="none"/>
<path d="M190.94 493.05V501.54M188.64 493.05H193.25M188.64 501.54H193.25" stroke="#333" stroke-width="1.0" fill="none"/>
<path d="M234.16 502.81V505.64M231.86 502.81H236.46M231.86 505.64H236.46" stroke="#333" stroke-width="1.0" fill="none"/>
<path d="M320.59 505.5V507.76M318.29 505.5H322.89M318.29 507.76H322.89" stroke="#333" stroke-width="1.0" fill="none"/>
<path d="M46.89 491.49V496.58M44.59 491.49H49.19M44.59 496.58H49.19" stroke="#151515" stroke-width="1.0" fill="none"/>
<path d="M54.1 488.38V493.75M51.8 488.38H56.4M51.8 493.75H56.4" stroke="#151515" stroke-width="1.0" fill="none"/>
<path d="M61.3 486.54V493.61M59 486.54H63.6M59 493.61H63.6" stroke="#151515" stroke-width="1.0" fill="none"/>
<path d="M82.91 480.17V488.66M80.61 480.17H85.21M80.61 488.66H85.21" stroke="#151515" stroke-width="1.0" fill="none"/>
<path d="M104.51 458.38V469.7M102.21 458.38H106.81M102.21 469.7H106.81" stroke="#151515" stroke-width="1.0" fill="none"/>
<path d="M126.12 441.4V461.21M123.82 441.4H128.42M123.82 461.21H128.42" stroke="#151515" stroke-width="1.0" fill="none"/>
<path d="M147.73 442.39V453.71M145.43 442.39H150.03M145.43 453.71H150.03" stroke="#151515" stroke-width="1.0" fill="none"/>
<path d="M190.94 446.35V463.33M188.64 446.35H193.25M188.64 463.33H193.25" stroke="#151515" stroke-width="1.0" fill="none"/>
<path d="M234.16 462.91V475.64M231.86 462.91H236.46M231.86 475.64H236.46" stroke="#151515" stroke-width="1.0" fill="none"/>
<path d="M320.59 477.2V487.1M318.29 477.2H322.89M318.29 487.1H322.89" stroke="#151515" stroke-width="1.0" fill="none"/>
<path d="M46.89 497.15V499.98M44.59 497.15H49.19M44.59 499.98H49.19" stroke="#151515" stroke-width="1.0" fill="none"/>
<path d="M54.1 497.15V499.98M51.8 497.15H56.4M51.8 499.98H56.4" stroke="#151515" stroke-width="1.0" fill="none"/>
<path d="M61.3 497.43V500.26M59 497.43H63.6M59 500.26H63.6" stroke="#151515" stroke-width="1.0" fill="none"/>
<path d="M82.91 479.46V486.54M80.61 479.46H85.21M80.61 486.54H85.21" stroke="#151515" stroke-width="1.0" fill="none"/>
<path d="M104.51 443.38V457.53M102.21 443.38H106.81M102.21 457.53H106.81" stroke="#151515" stroke-width="1.0" fill="none"/>
<path d="M126.12 419.75V439.56M123.82 419.75H128.42M123.82 439.56H128.42" stroke="#151515" stroke-width="1.0" fill="none"/>
<path d="M147.73 440.13V454.28M145.43 440.13H150.03M145.43 454.28H150.03" stroke="#151515" stroke-width="1.0" fill="none"/>
<path d="M190.94 464.75V476.07M188.64 464.75H193.25M188.64 476.07H193.25" stroke="#151515" stroke-width="1.0" fill="none"/>
<path d="M234.16 482.58V491.07M231.86 482.58H236.46M231.86 491.07H236.46" stroke="#151515" stroke-width="1.0" fill="none"/>
<path d="M320.59 497.01V501.25M318.29 497.01H322.89M318.29 501.25H322.89" stroke="#151515" stroke-width="1.0" fill="none"/>
<circle cx="46.89" cy="494.04" r="2.45" fill="#000000"/>
<circle cx="54.1" cy="491.07" r="2.45" fill="#000000"/>
<circle cx="61.3" cy="490.07" r="2.45" fill="#000000"/>
<circle cx="82.91" cy="484.42" r="2.45" fill="#000000"/>
<circle cx="104.51" cy="464.04" r="2.45" fill="#000000"/>
<circle cx="126.12" cy="451.3" r="2.45" fill="#000000"/>
<circle cx="147.73" cy="448.05" r="2.45" fill="#000000"/>
<circle cx="190.94" cy="454.84" r="2.45" fill="#000000"/>
<circle cx="234.16" cy="469.27" r="2.45" fill="#000000"/>
<circle cx="320.59" cy="482.15" r="2.45" fill="#000000"/>
<circle cx="46.89" cy="498.56" r="2.45" fill="#000000"/>
<circle cx="54.1" cy="498.56" r="2.45" fill="#000000"/>
<circle cx="61.3" cy="498.85" r="2.45" fill="#000000"/>
<circle cx="82.91" cy="483" r="2.45" fill="#000000"/>
<circle cx="104.51" cy="450.45" r="2.45" fill="#000000"/>
<circle cx="126.12" cy="429.65" r="2.45" fill="#000000"/>
<circle cx="147.73" cy="447.2" r="2.45" fill="#000000"/>
<circle cx="190.94" cy="470.41" r="2.45" fill="#000000"/>
<circle cx="234.16" cy="486.82" r="2.45" fill="#000000"/>
<circle cx="320.59" cy="499.13" r="2.45" fill="#000000"/>
<path d="M46.89 502.03L49.5 506.67L44.28 506.67Z" fill="#5e5e5e"/>
<path d="M54.1 502.03L56.71 506.67L51.49 506.67Z" fill="#5e5e5e"/>
<path d="M61.3 502.03L63.91 506.67L58.69 506.67Z" fill="#5e5e5e"/>
<path d="M82.91 482.36L85.52 487L80.3 487Z" fill="#5e5e5e"/>
<path d="M104.51 450.81L107.12 455.45L101.9 455.45Z" fill="#5e5e5e"/>
<path d="M126.12 421.24L128.73 425.88L123.51 425.88Z" fill="#5e5e5e"/>
<path d="M147.73 444.73L150.34 449.37L145.12 449.37Z" fill="#5e5e5e"/>
<path d="M190.94 488.59L193.56 493.23L188.33 493.23Z" fill="#5e5e5e"/>
<path d="M234.16 497.93L236.77 502.57L231.55 502.57Z" fill="#5e5e5e"/>
<path d="M320.59 501.33L323.2 505.97L317.98 505.97Z" fill="#5e5e5e"/>
<path d="M46.89 502.03L49.5 506.67L44.28 506.67Z" fill="#5e5e5e"/>
<path d="M54.1 502.03L56.71 506.67L51.49 506.67Z" fill="#5e5e5e"/>
<path d="M61.3 502.03L63.91 506.67L58.69 506.67Z" fill="#5e5e5e"/>
<path d="M82.91 473.17L85.52 477.81L80.3 477.81Z" fill="#5e5e5e"/>
<path d="M104.51 416.71L107.12 421.35L101.9 421.35Z" fill="#5e5e5e"/>
<path d="M126.12 375.96L128.73 380.6L123.51 380.6Z" fill="#5e5e5e"/>
<path d="M147.73 437.65L150.34 442.29L145.12 442.29Z" fill="#5e5e5e"/>
<path d="M190.94 494.39L193.56 499.03L188.33 499.03Z" fill="#5e5e5e"/>
<path d="M234.16 501.33L236.77 505.97L231.55 505.97Z" fill="#5e5e5e"/>
<path d="M320.59 503.73L323.2 508.37L317.98 508.37Z" fill="#5e5e5e"/>
<path d="M46.89 502.74L49.5 507.38L44.28 507.38Z" fill="#bababa" stroke="#fff" stroke-width="1.3" paint-order="stroke" stroke-linejoin="round"/>
<path d="M54.1 502.74L56.71 507.38L51.49 507.38Z" fill="#bababa" stroke="#fff" stroke-width="1.3" paint-order="stroke" stroke-linejoin="round"/>
<path d="M61.3 502.74L63.91 507.38L58.69 507.38Z" fill="#bababa" stroke="#fff" stroke-width="1.3" paint-order="stroke" stroke-linejoin="round"/>
<path d="M82.91 488.17L85.52 492.81L80.3 492.81Z" fill="#bababa" stroke="#fff" stroke-width="1.3" paint-order="stroke" stroke-linejoin="round"/>
<path d="M104.51 461L107.12 465.64L101.9 465.64Z" fill="#bababa" stroke="#fff" stroke-width="1.3" paint-order="stroke" stroke-linejoin="round"/>
<path d="M126.12 430.43L128.73 435.07L123.51 435.07Z" fill="#bababa" stroke="#fff" stroke-width="1.3" paint-order="stroke" stroke-linejoin="round"/>
<path d="M147.73 448.83L150.34 453.47L145.12 453.47Z" fill="#bababa" stroke="#fff" stroke-width="1.3" paint-order="stroke" stroke-linejoin="round"/>
<path d="M190.94 483.92L193.56 488.56L188.33 488.56Z" fill="#bababa" stroke="#fff" stroke-width="1.3" paint-order="stroke" stroke-linejoin="round"/>
<path d="M234.16 495.67L236.77 500.31L231.55 500.31Z" fill="#bababa" stroke="#fff" stroke-width="1.3" paint-order="stroke" stroke-linejoin="round"/>
<path d="M320.59 499.06L323.2 503.7L317.98 503.7Z" fill="#bababa" stroke="#fff" stroke-width="1.3" paint-order="stroke" stroke-linejoin="round"/>
<path d="M46.89 502.74L49.5 507.38L44.28 507.38Z" fill="#bababa" stroke="#fff" stroke-width="1.3" paint-order="stroke" stroke-linejoin="round"/>
<path d="M54.1 502.74L56.71 507.38L51.49 507.38Z" fill="#bababa" stroke="#fff" stroke-width="1.3" paint-order="stroke" stroke-linejoin="round"/>
<path d="M61.3 502.74L63.91 507.38L58.69 507.38Z" fill="#bababa" stroke="#fff" stroke-width="1.3" paint-order="stroke" stroke-linejoin="round"/>
<path d="M82.91 473.17L85.52 477.81L80.3 477.81Z" fill="#bababa" stroke="#fff" stroke-width="1.3" paint-order="stroke" stroke-linejoin="round"/>
<path d="M104.51 433.41L107.12 438.05L101.9 438.05Z" fill="#bababa" stroke="#fff" stroke-width="1.3" paint-order="stroke" stroke-linejoin="round"/>
<path d="M126.12 405.11L128.73 409.75L123.51 409.75Z" fill="#bababa" stroke="#fff" stroke-width="1.3" paint-order="stroke" stroke-linejoin="round"/>
<path d="M147.73 446.85L150.34 451.49L145.12 451.49Z" fill="#bababa" stroke="#fff" stroke-width="1.3" paint-order="stroke" stroke-linejoin="round"/>
<path d="M190.94 492.13L193.56 496.77L188.33 496.77Z" fill="#bababa" stroke="#fff" stroke-width="1.3" paint-order="stroke" stroke-linejoin="round"/>
<path d="M234.16 500.76L236.77 505.4L231.55 505.4Z" fill="#bababa" stroke="#fff" stroke-width="1.3" paint-order="stroke" stroke-linejoin="round"/>
<path d="M320.59 502.6L323.2 507.24L317.98 507.24Z" fill="#bababa" stroke="#fff" stroke-width="1.3" paint-order="stroke" stroke-linejoin="round"/>
<path d="M390.2 341.25V512.15" class="ax"/>
<path d="M386.6 511.6H390.2" class="ax"/>
<text transform="translate(382.1 514.8) scale(1.0 1.12)" class="tk" text-anchor="end">0</text>
<path d="M386.6 469.15H390.2" class="ax"/>
<text transform="translate(382.1 472.35) scale(1.0 1.12)" class="tk" text-anchor="end">300</text>
<path d="M386.6 426.7H390.2" class="ax"/>
<text transform="translate(382.1 429.9) scale(1.0 1.12)" class="tk" text-anchor="end">600</text>
<path d="M386.6 384.25H390.2" class="ax"/>
<text transform="translate(382.1 387.45) scale(1.0 1.12)" class="tk" text-anchor="end">900</text>
<path d="M386.6 341.8H390.2" class="ax"/>
<text transform="translate(382.1 345) scale(1.0 1.12)" class="tk" text-anchor="end">1200</text>
<path d="M414.85 518.5H675.24" class="ax"/>
<path d="M415.4 518.5V522.5" class="ax"/>
<text transform="translate(415.4 533.5) scale(1.0 1.12)" class="tk" text-anchor="middle">0</text>
<path d="M458.61 518.5V522.5" class="ax"/>
<text transform="translate(458.61 533.5) scale(1.0 1.12)" class="tk" text-anchor="middle">30</text>
<path d="M501.83 518.5V522.5" class="ax"/>
<text transform="translate(501.83 533.5) scale(1.0 1.12)" class="tk" text-anchor="middle">60</text>
<path d="M545.04 518.5V522.5" class="ax"/>
<text transform="translate(545.04 533.5) scale(1.0 1.12)" class="tk" text-anchor="middle">90</text>
<path d="M588.26 518.5V522.5" class="ax"/>
<text transform="translate(588.26 533.5) scale(1.0 1.12)" class="tk" text-anchor="middle">120</text>
<path d="M631.47 518.5V522.5" class="ax"/>
<text transform="translate(631.47 533.5) scale(1.0 1.12)" class="tk" text-anchor="middle">150</text>
<path d="M674.69 518.5V522.5" class="ax"/>
<text transform="translate(674.69 533.5) scale(1.0 1.12)" class="tk" text-anchor="middle">180</text>
<text transform="translate(537.84 550.3) scale(1.0 1.1)" class="lab" text-anchor="middle" textLength="32.6" lengthAdjust="spacingAndGlyphs">Time (min)</text>
<text transform="translate(364.2 426.5) rotate(-90) scale(1.0 1.1)" class="lab" text-anchor="middle" textLength="47.8" lengthAdjust="spacingAndGlyphs">Insulin (pmol/L)</text>
<text x="537.84" y="321.8" class="ti" text-anchor="middle">Insulin</text>
<text x="394.9" y="324.5" class="lt">D</text>
<path d="M633.5 342.9H643.2" stroke="#000000" stroke-width="1.35" fill="none"/>
<circle cx="638.5" cy="342.9" r="1.52" fill="#000000"/>
<text transform="translate(647.6 345.4) scale(1.0 1.1)" class="lg">Pre</text>
<path d="M633.5 351H643.2" stroke="#5e5e5e" stroke-width="1.1" fill="none"/>
<path d="M638.5 349.2L640.12 352.08L636.88 352.08Z" fill="#5e5e5e"/>
<text transform="translate(647.6 353.5) scale(1.0 1.1)" class="lg">1 y</text>
<path d="M633.5 359.1H643.2" stroke="#bababa" stroke-width="1.1" fill="none"/>
<path d="M638.5 360.9L640.12 358.02L636.88 358.02Z" fill="#bababa"/>
<text transform="translate(647.6 361.6) scale(1.0 1.1)" class="lg">Late</text>
<path d="M417.21 504.95L435.19 474.1M439.09 468.05L456.54 443.37M461.16 437.88L477.68 421.32M483.33 416.96L498.72 408M503.98 409.07L542.89 461.31M548.4 465.51L584.91 479.86" stroke="#bababa" stroke-width="1.2" fill="none" stroke-dasharray="2.3 2.9"/>
<path d="M416.41 504.61L436 437.65M438.86 431.11L456.76 401.34M461.87 396.72L476.97 389.61M483.81 388.4L498.25 389.72M504.25 392.72L542.63 435.07M547.43 440.43L585.87 483.86" stroke="#bababa" stroke-width="1.25" fill="none"/>
<path d="M417.74 503.91L434.67 484.06M439.59 478.81L456.03 462.88M461.88 458.86L476.96 451.85M482.59 447.62L499.46 428.28M504.65 427.81L542.23 457.71M547.93 462.11L585.38 490.2" stroke="#5e5e5e" stroke-width="1.2" fill="none" stroke-dasharray="2.3 2.9"/>
<path d="M416.49 503.21L435.92 441.74M439.12 435.39L456.5 411.36M461.98 409.72L476.86 415.38M483.55 418.03L498.5 424.2M505.17 426.91L541.71 441.63M547.49 445.61L585.81 487.03" stroke="#5e5e5e" stroke-width="1.25" fill="none"/>
<path d="M418.68 489.6L433.73 482.8M440.08 479.45L455.54 470.03M461.98 466.88L476.86 461.23M483.55 458.58L498.5 452.41M505.35 450.27L541.53 442.33M548.6 442.15L584.71 448.18" stroke="#000000" stroke-width="1.4" fill="none" stroke-dasharray="2.3 2.9"/>
<path d="M417.38 495.86L435.03 469.04M439.03 463.06L456.59 437.18M461.41 431.93L477.43 418.92M483.66 415.57L498.4 410.94M505.43 409.86L541.44 409.86M548.49 410.9L584.81 421.84" stroke="#000000" stroke-width="1.35" fill="none"/>
<path d="M401 506.93V509.19M398.69 506.93H403.3M398.69 509.19H403.3" stroke="#3c3c3c" stroke-width="1.0" fill="none"/>
<path d="M408.2 506.93V509.19M405.9 506.93H410.5M405.9 509.19H410.5" stroke="#3c3c3c" stroke-width="1.0" fill="none"/>
<path d="M415.4 506.93V509.19M413.1 506.93H417.7M413.1 509.19H417.7" stroke="#3c3c3c" stroke-width="1.0" fill="none"/>
<path d="M437.01 462.5V479.48M434.71 462.5H439.31M434.71 479.48H439.31" stroke="#3c3c3c" stroke-width="1.0" fill="none"/>
<path d="M458.61 429.11V451.75M456.31 429.11H460.91M456.31 451.75H460.91" stroke="#3c3c3c" stroke-width="1.0" fill="none"/>
<path d="M480.22 401.8V435.76M477.92 401.8H482.52M477.92 435.76H482.52" stroke="#3c3c3c" stroke-width="1.0" fill="none"/>
<path d="M501.83 377.88V434.48M499.53 377.88H504.13M499.53 434.48H504.13" stroke="#3c3c3c" stroke-width="1.0" fill="none"/>
<path d="M545.04 450.05V478.35M542.75 450.05H547.34M542.75 478.35H547.34" stroke="#3c3c3c" stroke-width="1.0" fill="none"/>
<path d="M588.26 471.56V490.8M585.96 471.56H590.56M585.96 490.8H590.56" stroke="#3c3c3c" stroke-width="1.0" fill="none"/>
<path d="M401 506.93V509.19M398.69 506.93H403.3M398.69 509.19H403.3" stroke="#3c3c3c" stroke-width="1.0" fill="none"/>
<path d="M408.2 506.93V509.19M405.9 506.93H410.5M405.9 509.19H410.5" stroke="#3c3c3c" stroke-width="1.0" fill="none"/>
<path d="M415.4 506.93V509.19M413.1 506.93H417.7M413.1 509.19H417.7" stroke="#3c3c3c" stroke-width="1.0" fill="none"/>
<path d="M437.01 414.39V454.01M434.71 414.39H439.31M434.71 454.01H439.31" stroke="#3c3c3c" stroke-width="1.0" fill="none"/>
<path d="M458.61 373.07V423.45M456.31 373.07H460.91M456.31 423.45H460.91" stroke="#3c3c3c" stroke-width="1.0" fill="none"/>
<path d="M480.22 361.61V414.53M477.92 361.61H482.52M477.92 414.53H482.52" stroke="#3c3c3c" stroke-width="1.0" fill="none"/>
<path d="M501.83 348.88V431.23M499.53 348.88H504.13M499.53 431.23H504.13" stroke="#3c3c3c" stroke-width="1.0" fill="none"/>
<path d="M545.04 399.67V475.8M542.75 399.67H547.34M542.75 475.8H547.34" stroke="#3c3c3c" stroke-width="1.0" fill="none"/>
<path d="M588.26 476.08V497.03M585.96 476.08H590.56M585.96 497.03H590.56" stroke="#3c3c3c" stroke-width="1.0" fill="none"/>
<path d="M401 505.23V508.06M398.69 505.23H403.3M398.69 508.06H403.3" stroke="#333" stroke-width="1.0" fill="none"/>
<path d="M408.2 505.23V508.06M405.9 505.23H410.5M405.9 508.06H410.5" stroke="#333" stroke-width="1.0" fill="none"/>
<path d="M415.4 505.23V508.06M413.1 505.23H417.7M413.1 508.06H417.7" stroke="#333" stroke-width="1.0" fill="none"/>
<path d="M437.01 475.66V486.98M434.71 475.66H439.31M434.71 486.98H439.31" stroke="#333" stroke-width="1.0" fill="none"/>
<path d="M458.61 446.23V474.53M456.31 446.23H460.91M456.31 474.53H460.91" stroke="#333" stroke-width="1.0" fill="none"/>
<path d="M480.22 433.35V467.31M477.92 433.35H482.52M477.92 467.31H482.52" stroke="#333" stroke-width="1.0" fill="none"/>
<path d="M501.83 399.39V451.75M499.53 399.39H504.13M499.53 451.75H504.13" stroke="#333" stroke-width="1.0" fill="none"/>
<path d="M545.04 441.84V478.06M542.75 441.84H547.34M542.75 478.06H547.34" stroke="#333" stroke-width="1.0" fill="none"/>
<path d="M588.26 486.7V498.02M585.96 486.7H590.56M585.96 498.02H590.56" stroke="#333" stroke-width="1.0" fill="none"/>
<path d="M401 505.23V508.06M398.69 505.23H403.3M398.69 508.06H403.3" stroke="#333" stroke-width="1.0" fill="none"/>
<path d="M408.2 505.23V508.06M405.9 505.23H410.5M405.9 508.06H410.5" stroke="#333" stroke-width="1.0" fill="none"/>
<path d="M415.4 505.23V508.06M413.1 505.23H417.7M413.1 508.06H417.7" stroke="#333" stroke-width="1.0" fill="none"/>
<path d="M437.01 414.96V461.65M434.71 414.96H439.31M434.71 461.65H439.31" stroke="#333" stroke-width="1.0" fill="none"/>
<path d="M458.61 381.56V435.33M456.31 381.56H460.91M456.31 435.33H460.91" stroke="#333" stroke-width="1.0" fill="none"/>
<path d="M480.22 389.77V443.54M477.92 389.77H482.52M477.92 443.54H482.52" stroke="#333" stroke-width="1.0" fill="none"/>
<path d="M501.83 395.15V455.99M499.53 395.15H504.13M499.53 455.99H504.13" stroke="#333" stroke-width="1.0" fill="none"/>
<path d="M545.04 421.75V464.2M542.75 421.75H547.34M542.75 464.2H547.34" stroke="#333" stroke-width="1.0" fill="none"/>
<path d="M588.26 482.31V497.03M585.96 482.31H590.56M585.96 497.03H590.56" stroke="#333" stroke-width="1.0" fill="none"/>
<path d="M401 487.55V494.62M398.69 487.55H403.3M398.69 494.62H403.3" stroke="#151515" stroke-width="1.0" fill="none"/>
<path d="M408.2 487.55V494.62M405.9 487.55H410.5M405.9 494.62H410.5" stroke="#151515" stroke-width="1.0" fill="none"/>
<path d="M415.4 487.55V494.62M413.1 487.55H417.7M413.1 494.62H417.7" stroke="#151515" stroke-width="1.0" fill="none"/>
<path d="M437.01 476.08V486.55M434.71 476.08H439.31M434.71 486.55H439.31" stroke="#151515" stroke-width="1.0" fill="none"/>
<path d="M458.61 461.23V475.09M456.31 461.23H460.91M456.31 475.09H460.91" stroke="#151515" stroke-width="1.0" fill="none"/>
<path d="M480.22 451.46V468.44M477.92 451.46H482.52M477.92 468.44H482.52" stroke="#151515" stroke-width="1.0" fill="none"/>
<path d="M501.83 439.29V462.78M499.53 439.29H504.13M499.53 462.78H504.13" stroke="#151515" stroke-width="1.0" fill="none"/>
<path d="M545.04 426.13V456.98M542.75 426.13H547.34M542.75 456.98H547.34" stroke="#151515" stroke-width="1.0" fill="none"/>
<path d="M588.26 437.74V459.81M585.96 437.74H590.56M585.96 459.81H590.56" stroke="#151515" stroke-width="1.0" fill="none"/>
<path d="M401 496.04V501.7M398.69 496.04H403.3M398.69 501.7H403.3" stroke="#151515" stroke-width="1.0" fill="none"/>
<path d="M408.2 496.04V501.7M405.9 496.04H410.5M405.9 501.7H410.5" stroke="#151515" stroke-width="1.0" fill="none"/>
<path d="M415.4 496.04V501.7M413.1 496.04H417.7M413.1 501.7H417.7" stroke="#151515" stroke-width="1.0" fill="none"/>
<path d="M437.01 457.55V474.53M434.71 457.55H439.31M434.71 474.53H439.31" stroke="#151515" stroke-width="1.0" fill="none"/>
<path d="M458.61 422.74V445.66M456.31 422.74H460.91M456.31 445.66H460.91" stroke="#151515" stroke-width="1.0" fill="none"/>
<path d="M480.22 397.98V435.33M477.92 397.98H482.52M477.92 435.33H482.52" stroke="#151515" stroke-width="1.0" fill="none"/>
<path d="M501.83 370.81V448.92M499.53 370.81H504.13M499.53 448.92H504.13" stroke="#151515" stroke-width="1.0" fill="none"/>
<path d="M545.04 381.28V438.44M542.75 381.28H547.34M542.75 438.44H547.34" stroke="#151515" stroke-width="1.0" fill="none"/>
<path d="M588.26 397.55V448.21M585.96 397.55H590.56M585.96 448.21H590.56" stroke="#151515" stroke-width="1.0" fill="none"/>
<circle cx="401" cy="491.08" r="2.45" fill="#000000"/>
<circle cx="408.2" cy="491.08" r="2.45" fill="#000000"/>
<circle cx="415.4" cy="491.08" r="2.45" fill="#000000"/>
<circle cx="437.01" cy="481.32" r="2.45" fill="#000000"/>
<circle cx="458.61" cy="468.16" r="2.45" fill="#000000"/>
<circle cx="480.22" cy="459.95" r="2.45" fill="#000000"/>
<circle cx="501.83" cy="451.04" r="2.45" fill="#000000"/>
<circle cx="545.04" cy="441.56" r="2.45" fill="#000000"/>
<circle cx="588.26" cy="448.77" r="2.45" fill="#000000"/>
<circle cx="401" cy="498.87" r="2.45" fill="#000000"/>
<circle cx="408.2" cy="498.87" r="2.45" fill="#000000"/>
<circle cx="415.4" cy="498.87" r="2.45" fill="#000000"/>
<circle cx="437.01" cy="466.04" r="2.45" fill="#000000"/>
<circle cx="458.61" cy="434.2" r="2.45" fill="#000000"/>
<circle cx="480.22" cy="416.65" r="2.45" fill="#000000"/>
<circle cx="501.83" cy="409.86" r="2.45" fill="#000000"/>
<circle cx="545.04" cy="409.86" r="2.45" fill="#000000"/>
<circle cx="588.26" cy="422.88" r="2.45" fill="#000000"/>
<path d="M401 503.75L403.61 508.39L398.38 508.39Z" fill="#5e5e5e"/>
<path d="M408.2 503.75L410.81 508.39L405.59 508.39Z" fill="#5e5e5e"/>
<path d="M415.4 503.75L418.01 508.39L412.79 508.39Z" fill="#5e5e5e"/>
<path d="M437.01 478.42L439.62 483.06L434.4 483.06Z" fill="#5e5e5e"/>
<path d="M458.61 457.48L461.22 462.12L456 462.12Z" fill="#5e5e5e"/>
<path d="M480.22 447.43L482.83 452.07L477.61 452.07Z" fill="#5e5e5e"/>
<path d="M501.83 422.67L504.44 427.31L499.22 427.31Z" fill="#5e5e5e"/>
<path d="M545.04 457.05L547.65 461.69L542.43 461.69Z" fill="#5e5e5e"/>
<path d="M588.26 489.46L590.87 494.1L585.65 494.1Z" fill="#5e5e5e"/>
<path d="M401 503.75L403.61 508.39L398.38 508.39Z" fill="#5e5e5e"/>
<path d="M408.2 503.75L410.81 508.39L405.59 508.39Z" fill="#5e5e5e"/>
<path d="M415.4 503.75L418.01 508.39L412.79 508.39Z" fill="#5e5e5e"/>
<path d="M437.01 435.4L439.62 440.04L434.4 440.04Z" fill="#5e5e5e"/>
<path d="M458.61 405.55L461.22 410.19L456 410.19Z" fill="#5e5e5e"/>
<path d="M480.22 413.75L482.83 418.39L477.61 418.39Z" fill="#5e5e5e"/>
<path d="M501.83 422.67L504.44 427.31L499.22 427.31Z" fill="#5e5e5e"/>
<path d="M545.04 440.07L547.65 444.71L542.43 444.71Z" fill="#5e5e5e"/>
<path d="M588.26 486.77L590.87 491.41L585.65 491.41Z" fill="#5e5e5e"/>
<path d="M401 505.16L403.61 509.8L398.38 509.8Z" fill="#bababa" stroke="#fff" stroke-width="1.3" paint-order="stroke" stroke-linejoin="round"/>
<path d="M408.2 505.16L410.81 509.8L405.59 509.8Z" fill="#bababa" stroke="#fff" stroke-width="1.3" paint-order="stroke" stroke-linejoin="round"/>
<path d="M415.4 505.16L418.01 509.8L412.79 509.8Z" fill="#bababa" stroke="#fff" stroke-width="1.3" paint-order="stroke" stroke-linejoin="round"/>
<path d="M437.01 468.09L439.62 472.73L434.4 472.73Z" fill="#bababa" stroke="#fff" stroke-width="1.3" paint-order="stroke" stroke-linejoin="round"/>
<path d="M458.61 437.53L461.22 442.17L456 442.17Z" fill="#bababa" stroke="#fff" stroke-width="1.3" paint-order="stroke" stroke-linejoin="round"/>
<path d="M480.22 415.88L482.83 420.52L477.61 420.52Z" fill="#bababa" stroke="#fff" stroke-width="1.3" paint-order="stroke" stroke-linejoin="round"/>
<path d="M501.83 403.28L504.44 407.92L499.22 407.92Z" fill="#bababa" stroke="#fff" stroke-width="1.3" paint-order="stroke" stroke-linejoin="round"/>
<path d="M545.04 461.3L547.65 465.94L542.43 465.94Z" fill="#bababa" stroke="#fff" stroke-width="1.3" paint-order="stroke" stroke-linejoin="round"/>
<path d="M588.26 478.28L590.87 482.92L585.65 482.92Z" fill="#bababa" stroke="#fff" stroke-width="1.3" paint-order="stroke" stroke-linejoin="round"/>
<path d="M401 505.16L403.61 509.8L398.38 509.8Z" fill="#bababa" stroke="#fff" stroke-width="1.3" paint-order="stroke" stroke-linejoin="round"/>
<path d="M408.2 505.16L410.81 509.8L405.59 509.8Z" fill="#bababa" stroke="#fff" stroke-width="1.3" paint-order="stroke" stroke-linejoin="round"/>
<path d="M415.4 505.16L418.01 509.8L412.79 509.8Z" fill="#bababa" stroke="#fff" stroke-width="1.3" paint-order="stroke" stroke-linejoin="round"/>
<path d="M437.01 431.3L439.62 435.94L434.4 435.94Z" fill="#bababa" stroke="#fff" stroke-width="1.3" paint-order="stroke" stroke-linejoin="round"/>
<path d="M458.61 395.36L461.22 400L456 400Z" fill="#bababa" stroke="#fff" stroke-width="1.3" paint-order="stroke" stroke-linejoin="round"/>
<path d="M480.22 385.17L482.83 389.81L477.61 389.81Z" fill="#bababa" stroke="#fff" stroke-width="1.3" paint-order="stroke" stroke-linejoin="round"/>
<path d="M501.83 387.15L504.44 391.79L499.22 391.79Z" fill="#bababa" stroke="#fff" stroke-width="1.3" paint-order="stroke" stroke-linejoin="round"/>
<path d="M545.04 434.84L547.65 439.48L542.43 439.48Z" fill="#bababa" stroke="#fff" stroke-width="1.3" paint-order="stroke" stroke-linejoin="round"/>
<path d="M588.26 483.65L590.87 488.29L585.65 488.29Z" fill="#bababa" stroke="#fff" stroke-width="1.3" paint-order="stroke" stroke-linejoin="round"/>
<path d="M35.7 612.45V782.95" class="ax"/>
<path d="M32.1 782.4H35.7" class="ax"/>
<text transform="translate(27.6 785.6) scale(1.0 1.12)" class="tk" text-anchor="end">0</text>
<path d="M32.1 748.52H35.7" class="ax"/>
<text transform="translate(27.6 751.72) scale(1.0 1.12)" class="tk" text-anchor="end">1200</text>
<path d="M32.1 714.64H35.7" class="ax"/>
<text transform="translate(27.6 717.84) scale(1.0 1.12)" class="tk" text-anchor="end">2400</text>
<path d="M32.1 680.76H35.7" class="ax"/>
<text transform="translate(27.6 683.96) scale(1.0 1.12)" class="tk" text-anchor="end">3600</text>
<path d="M32.1 646.88H35.7" class="ax"/>
<text transform="translate(27.6 650.08) scale(1.0 1.12)" class="tk" text-anchor="end">4800</text>
<path d="M32.1 613H35.7" class="ax"/>
<text transform="translate(27.6 616.2) scale(1.0 1.12)" class="tk" text-anchor="end">6000</text>
<path d="M60.75 789.4H321.14" class="ax"/>
<path d="M61.3 789.4V793.4" class="ax"/>
<text transform="translate(61.3 804.4) scale(1.0 1.12)" class="tk" text-anchor="middle">0</text>
<path d="M104.51 789.4V793.4" class="ax"/>
<text transform="translate(104.51 804.4) scale(1.0 1.12)" class="tk" text-anchor="middle">30</text>
<path d="M147.73 789.4V793.4" class="ax"/>
<text transform="translate(147.73 804.4) scale(1.0 1.12)" class="tk" text-anchor="middle">60</text>
<path d="M190.94 789.4V793.4" class="ax"/>
<text transform="translate(190.94 804.4) scale(1.0 1.12)" class="tk" text-anchor="middle">90</text>
<path d="M234.16 789.4V793.4" class="ax"/>
<text transform="translate(234.16 804.4) scale(1.0 1.12)" class="tk" text-anchor="middle">120</text>
<path d="M277.38 789.4V793.4" class="ax"/>
<text transform="translate(277.38 804.4) scale(1.0 1.12)" class="tk" text-anchor="middle">150</text>
<path d="M320.59 789.4V793.4" class="ax"/>
<text transform="translate(320.59 804.4) scale(1.0 1.12)" class="tk" text-anchor="middle">180</text>
<text transform="translate(183.74 821.2) scale(1.0 1.1)" class="lab" text-anchor="middle" textLength="32.6" lengthAdjust="spacingAndGlyphs">Time (min)</text>
<text transform="translate(9.7 697.6) rotate(-90) scale(1.0 1.1)" class="lab" text-anchor="middle" textLength="56.8" lengthAdjust="spacingAndGlyphs">C-peptide (pmol/L)</text>
<text x="183.74" y="593.4" class="ti" text-anchor="middle">C-peptide</text>
<text x="37.5" y="594.8" class="lt">E</text>
<path d="M279.2 614.3H288.9" stroke="#000000" stroke-width="1.35" fill="none"/>
<circle cx="284.2" cy="614.3" r="1.52" fill="#000000"/>
<text transform="translate(293.3 616.8) scale(1.0 1.1)" class="lg">Pre</text>
<path d="M279.2 622.4H288.9" stroke="#5e5e5e" stroke-width="1.1" fill="none"/>
<path d="M284.2 620.6L285.82 623.48L282.58 623.48Z" fill="#5e5e5e"/>
<text transform="translate(293.3 624.9) scale(1.0 1.1)" class="lg">1 y</text>
<path d="M279.2 630.5H288.9" stroke="#bababa" stroke-width="1.1" fill="none"/>
<path d="M284.2 632.3L285.82 629.42L282.58 629.42Z" fill="#bababa"/>
<text transform="translate(293.3 633) scale(1.0 1.1)" class="lg">Late</text>
<path d="M64.49 756.82L79.72 748.86M85.56 744.75L101.87 729.73M106.98 724.66L123.66 706.9M129.7 703.88L144.15 702.28M151.03 703.31L187.64 719.17M194.4 721.62L230.71 732.37M237.73 733.87L317.02 744.62" stroke="#bababa" stroke-width="1.2" fill="none" stroke-dasharray="2.3 2.9"/>
<path d="M63.63 761.59L80.58 741.66M84.96 735.96L102.47 710.65M106.73 704.86L123.9 682.92M129.3 681.78L144.55 689.91M150.26 694.16L188.41 732.75M194.39 736.37L230.72 747.55M237.73 749.09L317.02 759.81" stroke="#bababa" stroke-width="1.25" fill="none"/>
<path d="M63.91 760.41L80.3 744.79M85.45 739.76L101.97 723.23M107.1 718.17L123.54 702.19M129.64 700.43L144.21 703.53M150.86 706.05L187.81 727.01M194.44 729.64L230.66 738.44M237.72 739.8L317.03 751.17" stroke="#5e5e5e" stroke-width="1.2" fill="none" stroke-dasharray="2.3 2.9"/>
<path d="M63.68 760.19L80.53 741.06M84.52 735.14L102.9 698.41M106.43 692.14L124.21 663.74M128.6 663.3L145.25 680.88M149.96 686.32L188.71 735.28M194.39 739.13L230.71 749.97M237.73 751.45L317.02 761.45" stroke="#5e5e5e" stroke-width="1.25" fill="none"/>
<path d="M57.52 740.63L57.88 740.51M64.89 739.17L79.32 738.22M85.99 736.12L101.44 726.76M107.98 723.91L122.66 719.77M129.54 717.65L144.31 712.73M151.3 711.12L187.38 706.36M194.54 706.04L230.56 707.54M237.73 708.16L317.02 718.52" stroke="#000000" stroke-width="1.4" fill="none" stroke-dasharray="2.3 2.9"/>
<path d="M64.38 749.22L79.83 739.86M85.53 735.52L101.9 720.07M107.29 715.31L123.35 701.98M129.7 700.04L144.15 701.51M151.2 702.82L187.47 712.65M194.35 714.76L230.75 727.14M237.7 728.94L317.05 743.25" stroke="#000000" stroke-width="1.35" fill="none"/>
<path d="M46.89 754.87V760.52M44.59 754.87H49.19M44.59 760.52H49.19" stroke="#3c3c3c" stroke-width="1.0" fill="none"/>
<path d="M54.1 754.87V760.52M51.8 754.87H56.4M51.8 760.52H56.4" stroke="#3c3c3c" stroke-width="1.0" fill="none"/>
<path d="M61.3 755.66V761.31M59 755.66H63.6M59 761.31H63.6" stroke="#3c3c3c" stroke-width="1.0" fill="none"/>
<path d="M82.91 743.52V750.86M80.61 743.52H85.21M80.61 750.86H85.21" stroke="#3c3c3c" stroke-width="1.0" fill="none"/>
<path d="M104.51 720.23V734.35M102.21 720.23H106.81M102.21 734.35H106.81" stroke="#3c3c3c" stroke-width="1.0" fill="none"/>
<path d="M126.12 697.22V711.34M123.82 697.22H128.42M123.82 711.34H128.42" stroke="#3c3c3c" stroke-width="1.0" fill="none"/>
<path d="M147.73 694.82V708.94M145.43 694.82H150.03M145.43 708.94H150.03" stroke="#3c3c3c" stroke-width="1.0" fill="none"/>
<path d="M190.94 714.95V726.24M188.64 714.95H193.25M188.64 726.24H193.25" stroke="#3c3c3c" stroke-width="1.0" fill="none"/>
<path d="M234.16 729.15V737.62M231.86 729.15H236.46M231.86 737.62H236.46" stroke="#3c3c3c" stroke-width="1.0" fill="none"/>
<path d="M320.59 741.72V748.49M318.29 741.72H322.89M318.29 748.49H322.89" stroke="#3c3c3c" stroke-width="1.0" fill="none"/>
<path d="M46.89 762.07V766.59M44.59 762.07H49.19M44.59 766.59H49.19" stroke="#3c3c3c" stroke-width="1.0" fill="none"/>
<path d="M54.1 762.07V766.59M51.8 762.07H56.4M51.8 766.59H56.4" stroke="#3c3c3c" stroke-width="1.0" fill="none"/>
<path d="M61.3 762.07V766.59M59 762.07H63.6M59 766.59H63.6" stroke="#3c3c3c" stroke-width="1.0" fill="none"/>
<path d="M82.91 734.69V743.16M80.61 734.69H85.21M80.61 743.16H85.21" stroke="#3c3c3c" stroke-width="1.0" fill="none"/>
<path d="M104.51 701.29V714.1M102.21 701.29H106.81M102.21 714.1H106.81" stroke="#3c3c3c" stroke-width="1.0" fill="none"/>
<path d="M126.12 670.99V689.17M123.82 670.99H128.42M123.82 689.17H128.42" stroke="#3c3c3c" stroke-width="1.0" fill="none"/>
<path d="M147.73 683.7V699.51M145.43 683.7H150.03M145.43 699.51H150.03" stroke="#3c3c3c" stroke-width="1.0" fill="none"/>
<path d="M190.94 731.92V738.69M188.64 731.92H193.25M188.64 738.69H193.25" stroke="#3c3c3c" stroke-width="1.0" fill="none"/>
<path d="M234.16 746.35V750.86M231.86 746.35H236.46M231.86 750.86H236.46" stroke="#3c3c3c" stroke-width="1.0" fill="none"/>
<path d="M320.59 758.03V762.55M318.29 758.03H322.89M318.29 762.55H322.89" stroke="#3c3c3c" stroke-width="1.0" fill="none"/>
<path d="M46.89 759.67V765.32M44.59 759.67H49.19M44.59 765.32H49.19" stroke="#333" stroke-width="1.0" fill="none"/>
<path d="M54.1 759.67V765.32M51.8 759.67H56.4M51.8 765.32H56.4" stroke="#333" stroke-width="1.0" fill="none"/>
<path d="M61.3 760.07V765.71M59 760.07H63.6M59 765.71H63.6" stroke="#333" stroke-width="1.0" fill="none"/>
<path d="M82.91 738.07V746.54M80.61 738.07H85.21M80.61 746.54H85.21" stroke="#333" stroke-width="1.0" fill="none"/>
<path d="M104.51 713.62V727.74M102.21 713.62H106.81M102.21 727.74H106.81" stroke="#333" stroke-width="1.0" fill="none"/>
<path d="M126.12 691.21V708.15M123.82 691.21H128.42M123.82 708.15H128.42" stroke="#333" stroke-width="1.0" fill="none"/>
<path d="M147.73 697.22V711.34M145.43 697.22H150.03M145.43 711.34H150.03" stroke="#333" stroke-width="1.0" fill="none"/>
<path d="M190.94 723.14V734.43M188.64 723.14H193.25M188.64 734.43H193.25" stroke="#333" stroke-width="1.0" fill="none"/>
<path d="M234.16 735.05V743.52M231.86 735.05H236.46M231.86 743.52H236.46" stroke="#333" stroke-width="1.0" fill="none"/>
<path d="M320.59 748.29V755.07M318.29 748.29H322.89M318.29 755.07H322.89" stroke="#333" stroke-width="1.0" fill="none"/>
<path d="M46.89 759.67V765.32M44.59 759.67H49.19M44.59 765.32H49.19" stroke="#333" stroke-width="1.0" fill="none"/>
<path d="M54.1 759.67V765.32M51.8 759.67H56.4M51.8 765.32H56.4" stroke="#333" stroke-width="1.0" fill="none"/>
<path d="M61.3 760.07V765.71M59 760.07H63.6M59 765.71H63.6" stroke="#333" stroke-width="1.0" fill="none"/>
<path d="M82.91 734.12V742.59M80.61 734.12H85.21M80.61 742.59H85.21" stroke="#333" stroke-width="1.0" fill="none"/>
<path d="M104.51 688.3V702.08M102.21 688.3H106.81M102.21 702.08H106.81" stroke="#333" stroke-width="1.0" fill="none"/>
<path d="M126.12 651.28V670.09M123.82 651.28H128.42M123.82 670.09H128.42" stroke="#333" stroke-width="1.0" fill="none"/>
<path d="M147.73 672.6V694.4M145.43 672.6H150.03M145.43 694.4H150.03" stroke="#333" stroke-width="1.0" fill="none"/>
<path d="M190.94 734.71V741.49M188.64 734.71H193.25M188.64 741.49H193.25" stroke="#333" stroke-width="1.0" fill="none"/>
<path d="M234.16 748.75V753.26M231.86 748.75H236.46M231.86 753.26H236.46" stroke="#333" stroke-width="1.0" fill="none"/>
<path d="M320.59 759.64V764.16M318.29 759.64H322.89M318.29 764.16H322.89" stroke="#333" stroke-width="1.0" fill="none"/>
<path d="M46.89 736.69V746.29M44.59 736.69H49.19M44.59 746.29H49.19" stroke="#151515" stroke-width="1.0" fill="none"/>
<path d="M54.1 737.23V746.26M51.8 737.23H56.4M51.8 746.26H56.4" stroke="#151515" stroke-width="1.0" fill="none"/>
<path d="M61.3 734.6V744.2M59 734.6H63.6M59 744.2H63.6" stroke="#151515" stroke-width="1.0" fill="none"/>
<path d="M82.91 733.75V742.22M80.61 733.75H85.21M80.61 742.22H85.21" stroke="#151515" stroke-width="1.0" fill="none"/>
<path d="M104.51 716.42V733.36M102.21 716.42H106.81M102.21 733.36H106.81" stroke="#151515" stroke-width="1.0" fill="none"/>
<path d="M126.12 711.17V726.41M123.82 711.17H128.42M123.82 726.41H128.42" stroke="#151515" stroke-width="1.0" fill="none"/>
<path d="M147.73 704.39V718.79M145.43 704.39H150.03M145.43 718.79H150.03" stroke="#151515" stroke-width="1.0" fill="none"/>
<path d="M190.94 697.19V714.58M188.64 697.19H193.25M188.64 714.58H193.25" stroke="#151515" stroke-width="1.0" fill="none"/>
<path d="M234.16 699.59V715.8M231.86 699.59H236.46M231.86 715.8H236.46" stroke="#151515" stroke-width="1.0" fill="none"/>
<path d="M320.59 711.2V726.78M318.29 711.2H322.89M318.29 726.78H322.89" stroke="#151515" stroke-width="1.0" fill="none"/>
<path d="M46.89 749.17V754.82M44.59 749.17H49.19M44.59 754.82H49.19" stroke="#151515" stroke-width="1.0" fill="none"/>
<path d="M54.1 749.17V754.82M51.8 749.17H56.4M51.8 754.82H56.4" stroke="#151515" stroke-width="1.0" fill="none"/>
<path d="M61.3 748.27V753.91M59 748.27H63.6M59 753.91H63.6" stroke="#151515" stroke-width="1.0" fill="none"/>
<path d="M82.91 734.6V741.38M80.61 734.6H85.21M80.61 741.38H85.21" stroke="#151515" stroke-width="1.0" fill="none"/>
<path d="M104.51 713.37V721.84M102.21 713.37H106.81M102.21 721.84H106.81" stroke="#151515" stroke-width="1.0" fill="none"/>
<path d="M126.12 693.47V705.89M123.82 693.47H128.42M123.82 705.89H128.42" stroke="#151515" stroke-width="1.0" fill="none"/>
<path d="M147.73 696.23V707.53M145.43 696.23H150.03M145.43 707.53H150.03" stroke="#151515" stroke-width="1.0" fill="none"/>
<path d="M190.94 708.51V718.68M188.64 708.51H193.25M188.64 718.68H193.25" stroke="#151515" stroke-width="1.0" fill="none"/>
<path d="M234.16 723.22V733.39M231.86 723.22H236.46M231.86 733.39H236.46" stroke="#151515" stroke-width="1.0" fill="none"/>
<path d="M320.59 740.5V747.28M318.29 740.5H322.89M318.29 747.28H322.89" stroke="#151515" stroke-width="1.0" fill="none"/>
<circle cx="46.89" cy="741.49" r="2.45" fill="#000000"/>
<circle cx="54.1" cy="741.74" r="2.45" fill="#000000"/>
<circle cx="61.3" cy="739.4" r="2.45" fill="#000000"/>
<circle cx="82.91" cy="737.99" r="2.45" fill="#000000"/>
<circle cx="104.51" cy="724.89" r="2.45" fill="#000000"/>
<circle cx="126.12" cy="718.79" r="2.45" fill="#000000"/>
<circle cx="147.73" cy="711.59" r="2.45" fill="#000000"/>
<circle cx="190.94" cy="705.89" r="2.45" fill="#000000"/>
<circle cx="234.16" cy="707.69" r="2.45" fill="#000000"/>
<circle cx="320.59" cy="718.99" r="2.45" fill="#000000"/>
<circle cx="46.89" cy="751.99" r="2.45" fill="#000000"/>
<circle cx="54.1" cy="751.99" r="2.45" fill="#000000"/>
<circle cx="61.3" cy="751.09" r="2.45" fill="#000000"/>
<circle cx="82.91" cy="737.99" r="2.45" fill="#000000"/>
<circle cx="104.51" cy="717.6" r="2.45" fill="#000000"/>
<circle cx="126.12" cy="699.68" r="2.45" fill="#000000"/>
<circle cx="147.73" cy="701.88" r="2.45" fill="#000000"/>
<circle cx="190.94" cy="713.6" r="2.45" fill="#000000"/>
<circle cx="234.16" cy="728.3" r="2.45" fill="#000000"/>
<circle cx="320.59" cy="743.89" r="2.45" fill="#000000"/>
<path d="M46.89 759.6L49.5 764.24L44.28 764.24Z" fill="#5e5e5e"/>
<path d="M54.1 759.6L56.71 764.24L51.49 764.24Z" fill="#5e5e5e"/>
<path d="M61.3 759.99L63.91 764.63L58.69 764.63Z" fill="#5e5e5e"/>
<path d="M82.91 739.41L85.52 744.05L80.3 744.05Z" fill="#5e5e5e"/>
<path d="M104.51 717.78L107.12 722.42L101.9 722.42Z" fill="#5e5e5e"/>
<path d="M126.12 696.78L128.73 701.42L123.51 701.42Z" fill="#5e5e5e"/>
<path d="M147.73 701.38L150.34 706.02L145.12 706.02Z" fill="#5e5e5e"/>
<path d="M190.94 725.88L193.56 730.52L188.33 730.52Z" fill="#5e5e5e"/>
<path d="M234.16 736.39L236.77 741.03L231.55 741.03Z" fill="#5e5e5e"/>
<path d="M320.59 748.78L323.2 753.42L317.98 753.42Z" fill="#5e5e5e"/>
<path d="M46.89 759.6L49.5 764.24L44.28 764.24Z" fill="#5e5e5e"/>
<path d="M54.1 759.6L56.71 764.24L51.49 764.24Z" fill="#5e5e5e"/>
<path d="M61.3 759.99L63.91 764.63L58.69 764.63Z" fill="#5e5e5e"/>
<path d="M82.91 735.46L85.52 740.1L80.3 740.1Z" fill="#5e5e5e"/>
<path d="M104.51 692.29L107.12 696.93L101.9 696.93Z" fill="#5e5e5e"/>
<path d="M126.12 657.79L128.73 662.43L123.51 662.43Z" fill="#5e5e5e"/>
<path d="M147.73 680.6L150.34 685.24L145.12 685.24Z" fill="#5e5e5e"/>
<path d="M190.94 735.2L193.56 739.84L188.33 739.84Z" fill="#5e5e5e"/>
<path d="M234.16 748.1L236.77 752.74L231.55 752.74Z" fill="#5e5e5e"/>
<path d="M320.59 759L323.2 763.64L317.98 763.64Z" fill="#5e5e5e"/>
<path d="M46.89 754.8L49.5 759.44L44.28 759.44Z" fill="#bababa" stroke="#fff" stroke-width="1.3" paint-order="stroke" stroke-linejoin="round"/>
<path d="M54.1 754.8L56.71 759.44L51.49 759.44Z" fill="#bababa" stroke="#fff" stroke-width="1.3" paint-order="stroke" stroke-linejoin="round"/>
<path d="M61.3 755.59L63.91 760.23L58.69 760.23Z" fill="#bababa" stroke="#fff" stroke-width="1.3" paint-order="stroke" stroke-linejoin="round"/>
<path d="M82.91 744.29L85.52 748.93L80.3 748.93Z" fill="#bababa" stroke="#fff" stroke-width="1.3" paint-order="stroke" stroke-linejoin="round"/>
<path d="M104.51 724.39L107.12 729.03L101.9 729.03Z" fill="#bababa" stroke="#fff" stroke-width="1.3" paint-order="stroke" stroke-linejoin="round"/>
<path d="M126.12 701.38L128.73 706.02L123.51 706.02Z" fill="#bababa" stroke="#fff" stroke-width="1.3" paint-order="stroke" stroke-linejoin="round"/>
<path d="M147.73 698.98L150.34 703.62L145.12 703.62Z" fill="#bababa" stroke="#fff" stroke-width="1.3" paint-order="stroke" stroke-linejoin="round"/>
<path d="M190.94 717.7L193.56 722.34L188.33 722.34Z" fill="#bababa" stroke="#fff" stroke-width="1.3" paint-order="stroke" stroke-linejoin="round"/>
<path d="M234.16 730.49L236.77 735.13L231.55 735.13Z" fill="#bababa" stroke="#fff" stroke-width="1.3" paint-order="stroke" stroke-linejoin="round"/>
<path d="M320.59 742.2L323.2 746.84L317.98 746.84Z" fill="#bababa" stroke="#fff" stroke-width="1.3" paint-order="stroke" stroke-linejoin="round"/>
<path d="M46.89 761.43L49.5 766.07L44.28 766.07Z" fill="#bababa" stroke="#fff" stroke-width="1.3" paint-order="stroke" stroke-linejoin="round"/>
<path d="M54.1 761.43L56.71 766.07L51.49 766.07Z" fill="#bababa" stroke="#fff" stroke-width="1.3" paint-order="stroke" stroke-linejoin="round"/>
<path d="M61.3 761.43L63.91 766.07L58.69 766.07Z" fill="#bababa" stroke="#fff" stroke-width="1.3" paint-order="stroke" stroke-linejoin="round"/>
<path d="M82.91 736.02L85.52 740.66L80.3 740.66Z" fill="#bababa" stroke="#fff" stroke-width="1.3" paint-order="stroke" stroke-linejoin="round"/>
<path d="M104.51 704.79L107.12 709.43L101.9 709.43Z" fill="#bababa" stroke="#fff" stroke-width="1.3" paint-order="stroke" stroke-linejoin="round"/>
<path d="M126.12 677.18L128.73 681.82L123.51 681.82Z" fill="#bababa" stroke="#fff" stroke-width="1.3" paint-order="stroke" stroke-linejoin="round"/>
<path d="M147.73 688.7L150.34 693.34L145.12 693.34Z" fill="#bababa" stroke="#fff" stroke-width="1.3" paint-order="stroke" stroke-linejoin="round"/>
<path d="M190.94 732.41L193.56 737.05L188.33 737.05Z" fill="#bababa" stroke="#fff" stroke-width="1.3" paint-order="stroke" stroke-linejoin="round"/>
<path d="M234.16 745.7L236.77 750.34L231.55 750.34Z" fill="#bababa" stroke="#fff" stroke-width="1.3" paint-order="stroke" stroke-linejoin="round"/>
<path d="M320.59 757.39L323.2 762.03L317.98 762.03Z" fill="#bababa" stroke="#fff" stroke-width="1.3" paint-order="stroke" stroke-linejoin="round"/>
<path d="M390.2 613.45V783.95" class="ax"/>
<path d="M386.6 783.4H390.2" class="ax"/>
<text transform="translate(382.1 786.6) scale(1.0 1.12)" class="tk" text-anchor="end">0</text>
<path d="M386.6 749.52H390.2" class="ax"/>
<text transform="translate(382.1 752.72) scale(1.0 1.12)" class="tk" text-anchor="end">1200</text>
<path d="M386.6 715.64H390.2" class="ax"/>
<text transform="translate(382.1 718.84) scale(1.0 1.12)" class="tk" text-anchor="end">2400</text>
<path d="M386.6 681.76H390.2" class="ax"/>
<text transform="translate(382.1 684.96) scale(1.0 1.12)" class="tk" text-anchor="end">3600</text>
<path d="M386.6 647.88H390.2" class="ax"/>
<text transform="translate(382.1 651.08) scale(1.0 1.12)" class="tk" text-anchor="end">4800</text>
<path d="M386.6 614H390.2" class="ax"/>
<text transform="translate(382.1 617.2) scale(1.0 1.12)" class="tk" text-anchor="end">6000</text>
<path d="M414.85 790.4H675.24" class="ax"/>
<path d="M415.4 790.4V794.4" class="ax"/>
<text transform="translate(415.4 805.4) scale(1.0 1.12)" class="tk" text-anchor="middle">0</text>
<path d="M458.61 790.4V794.4" class="ax"/>
<text transform="translate(458.61 805.4) scale(1.0 1.12)" class="tk" text-anchor="middle">30</text>
<path d="M501.83 790.4V794.4" class="ax"/>
<text transform="translate(501.83 805.4) scale(1.0 1.12)" class="tk" text-anchor="middle">60</text>
<path d="M545.04 790.4V794.4" class="ax"/>
<text transform="translate(545.04 805.4) scale(1.0 1.12)" class="tk" text-anchor="middle">90</text>
<path d="M588.26 790.4V794.4" class="ax"/>
<text transform="translate(588.26 805.4) scale(1.0 1.12)" class="tk" text-anchor="middle">120</text>
<path d="M631.47 790.4V794.4" class="ax"/>
<text transform="translate(631.47 805.4) scale(1.0 1.12)" class="tk" text-anchor="middle">150</text>
<path d="M674.69 790.4V794.4" class="ax"/>
<text transform="translate(674.69 805.4) scale(1.0 1.12)" class="tk" text-anchor="middle">180</text>
<text transform="translate(537.84 822.2) scale(1.0 1.1)" class="lab" text-anchor="middle" textLength="32.6" lengthAdjust="spacingAndGlyphs">Time (min)</text>
<text transform="translate(364.2 697.6) rotate(-90) scale(1.0 1.1)" class="lab" text-anchor="middle" textLength="56.8" lengthAdjust="spacingAndGlyphs">C-peptide (pmol/L)</text>
<text x="537.84" y="593.4" class="ti" text-anchor="middle">C-peptide</text>
<text x="394.9" y="593.9" class="lt">F</text>
<path d="M633.5 615.3H643.2" stroke="#000000" stroke-width="1.35" fill="none"/>
<circle cx="638.5" cy="615.3" r="1.52" fill="#000000"/>
<text transform="translate(647.6 617.8) scale(1.0 1.1)" class="lg">Pre</text>
<path d="M633.5 623.4H643.2" stroke="#5e5e5e" stroke-width="1.1" fill="none"/>
<path d="M638.5 621.6L640.12 624.48L636.88 624.48Z" fill="#5e5e5e"/>
<text transform="translate(647.6 625.9) scale(1.0 1.1)" class="lg">1 y</text>
<path d="M633.5 631.5H643.2" stroke="#bababa" stroke-width="1.1" fill="none"/>
<path d="M638.5 633.3L640.12 630.42L636.88 630.42Z" fill="#bababa"/>
<text transform="translate(647.6 634) scale(1.0 1.1)" class="lg">Late</text>
<path d="M417.23 759.97L435.18 729.47M439.03 723.39L456.59 697.61M461.15 692.08L477.68 675.47M483.11 670.77L498.94 658.98M504.66 659.06L542.22 688.71M548.33 692.41L584.98 708.86" stroke="#bababa" stroke-width="1.2" fill="none" stroke-dasharray="2.3 2.9"/>
<path d="M416.71 762.26L435.7 713.49M438.8 707.01L456.82 675.73M461.11 670.02L477.73 652.71M483.82 649.93L498.23 649.19M504.44 651.48L542.43 687.44M547.48 692.57L585.82 734.28" stroke="#bababa" stroke-width="1.25" fill="none"/>
<path d="M417.42 761.22L434.98 735.42M439.35 729.71L456.27 709.96M461.17 704.69L477.67 688.25M483.17 683.64L498.88 672.59M505.14 671.93L541.73 687.52M548.03 690.95L585.28 716.11" stroke="#5e5e5e" stroke-width="1.2" fill="none" stroke-dasharray="2.3 2.9"/>
<path d="M416.73 761.14L435.68 713.48M438.8 707.01L456.82 675.73M462.16 671.97L476.68 669.36M483.8 668.3L498.25 666.64M505.08 667.78L541.79 685.27M547.42 689.52L585.88 733.24" stroke="#5e5e5e" stroke-width="1.25" fill="none"/>
<path d="M418.64 745.16L433.76 737.9M440.12 734.53L455.5 725.63M461.99 722.56L476.85 716.99M483.44 714.1L498.62 706.45M505.21 703.58L541.67 690.17M548.64 688.96L584.66 689.29" stroke="#000000" stroke-width="1.4" fill="none" stroke-dasharray="2.3 2.9"/>
<path d="M417.69 753.66L434.71 733.1M439.25 727.5L456.38 705.95M461.31 700.75L477.53 686.4M483.48 682.48L498.57 675.36M505.36 673.11L541.52 665.74M548.57 665.74L584.73 673.19" stroke="#000000" stroke-width="1.35" fill="none"/>
<path d="M401 760.81V765.33M398.69 760.81H403.3M398.69 765.33H403.3" stroke="#3c3c3c" stroke-width="1.0" fill="none"/>
<path d="M408.2 760.81V765.33M405.9 760.81H410.5M405.9 765.33H410.5" stroke="#3c3c3c" stroke-width="1.0" fill="none"/>
<path d="M415.4 760.81V765.33M413.1 760.81H417.7M413.1 765.33H417.7" stroke="#3c3c3c" stroke-width="1.0" fill="none"/>
<path d="M437.01 719.31V733.43M434.71 719.31H439.31M434.71 733.43H439.31" stroke="#3c3c3c" stroke-width="1.0" fill="none"/>
<path d="M458.61 681.93V707.34M456.31 681.93H460.91M456.31 707.34H460.91" stroke="#3c3c3c" stroke-width="1.0" fill="none"/>
<path d="M480.22 658.81V687.04M477.92 658.81H482.52M477.92 687.04H482.52" stroke="#3c3c3c" stroke-width="1.0" fill="none"/>
<path d="M501.83 639.89V673.77M499.53 639.89H504.13M499.53 673.77H504.13" stroke="#3c3c3c" stroke-width="1.0" fill="none"/>
<path d="M545.04 676.82V705.05M542.75 676.82H547.34M542.75 705.05H547.34" stroke="#3c3c3c" stroke-width="1.0" fill="none"/>
<path d="M588.26 699.04V721.63M585.96 699.04H590.56M585.96 721.63H590.56" stroke="#3c3c3c" stroke-width="1.0" fill="none"/>
<path d="M401 763.35V767.87M398.69 763.35H403.3M398.69 767.87H403.3" stroke="#3c3c3c" stroke-width="1.0" fill="none"/>
<path d="M408.2 763.35V767.87M405.9 763.35H410.5M405.9 767.87H410.5" stroke="#3c3c3c" stroke-width="1.0" fill="none"/>
<path d="M415.4 763.35V767.87M413.1 763.35H417.7M413.1 767.87H417.7" stroke="#3c3c3c" stroke-width="1.0" fill="none"/>
<path d="M437.01 697.99V722.27M434.71 697.99H439.31M434.71 722.27H439.31" stroke="#3c3c3c" stroke-width="1.0" fill="none"/>
<path d="M458.61 661.32V683.91M456.31 661.32H460.91M456.31 683.91H460.91" stroke="#3c3c3c" stroke-width="1.0" fill="none"/>
<path d="M480.22 633.62V666.6M477.92 633.62H482.52M477.92 666.6H482.52" stroke="#3c3c3c" stroke-width="1.0" fill="none"/>
<path d="M501.83 626.62V671.4M499.53 626.62H504.13M499.53 671.4H504.13" stroke="#3c3c3c" stroke-width="1.0" fill="none"/>
<path d="M545.04 675.8V704.04M542.75 675.8H547.34M542.75 704.04H547.34" stroke="#3c3c3c" stroke-width="1.0" fill="none"/>
<path d="M588.26 728.74V745.12M585.96 728.74H590.56M585.96 745.12H590.56" stroke="#3c3c3c" stroke-width="1.0" fill="none"/>
<path d="M401 761.94V766.46M398.69 761.94H403.3M398.69 766.46H403.3" stroke="#333" stroke-width="1.0" fill="none"/>
<path d="M408.2 761.94V766.46M405.9 761.94H410.5M405.9 766.46H410.5" stroke="#333" stroke-width="1.0" fill="none"/>
<path d="M415.4 761.94V766.46M413.1 761.94H417.7M413.1 766.46H417.7" stroke="#333" stroke-width="1.0" fill="none"/>
<path d="M437.01 726.79V738.09M434.71 726.79H439.31M434.71 738.09H439.31" stroke="#333" stroke-width="1.0" fill="none"/>
<path d="M458.61 694.52V719.93M456.31 694.52H460.91M456.31 719.93H460.91" stroke="#333" stroke-width="1.0" fill="none"/>
<path d="M480.22 671.6V699.83M477.92 671.6H482.52M477.92 699.83H482.52" stroke="#333" stroke-width="1.0" fill="none"/>
<path d="M501.83 656.41V684.64M499.53 656.41H504.13M499.53 684.64H504.13" stroke="#333" stroke-width="1.0" fill="none"/>
<path d="M545.04 671.99V705.87M542.75 671.99H547.34M542.75 705.87H547.34" stroke="#333" stroke-width="1.0" fill="none"/>
<path d="M588.26 706.83V729.42M585.96 706.83H590.56M585.96 729.42H590.56" stroke="#333" stroke-width="1.0" fill="none"/>
<path d="M401 762.23V766.74M398.69 762.23H403.3M398.69 766.74H403.3" stroke="#333" stroke-width="1.0" fill="none"/>
<path d="M408.2 762.23V766.74M405.9 762.23H410.5M405.9 766.74H410.5" stroke="#333" stroke-width="1.0" fill="none"/>
<path d="M415.4 762.23V766.74M413.1 762.23H417.7M413.1 766.74H417.7" stroke="#333" stroke-width="1.0" fill="none"/>
<path d="M437.01 690.94V729.33M434.71 690.94H439.31M434.71 729.33H439.31" stroke="#333" stroke-width="1.0" fill="none"/>
<path d="M458.61 652.85V692.38M456.31 652.85H460.91M456.31 692.38H460.91" stroke="#333" stroke-width="1.0" fill="none"/>
<path d="M480.22 648.95V688.48M477.92 648.95H482.52M477.92 688.48H482.52" stroke="#333" stroke-width="1.0" fill="none"/>
<path d="M501.83 646.47V686M499.53 646.47H504.13M499.53 686H504.13" stroke="#333" stroke-width="1.0" fill="none"/>
<path d="M545.04 672.7V700.93M542.75 672.7H547.34M542.75 700.93H547.34" stroke="#333" stroke-width="1.0" fill="none"/>
<path d="M588.26 727.47V744.41M585.96 727.47H590.56M585.96 744.41H590.56" stroke="#333" stroke-width="1.0" fill="none"/>
<path d="M401 743.05V750.4M398.69 743.05H403.3M398.69 750.4H403.3" stroke="#151515" stroke-width="1.0" fill="none"/>
<path d="M408.2 743.05V750.4M405.9 743.05H410.5M405.9 750.4H410.5" stroke="#151515" stroke-width="1.0" fill="none"/>
<path d="M415.4 743.05V750.4M413.1 743.05H417.7M413.1 750.4H417.7" stroke="#151515" stroke-width="1.0" fill="none"/>
<path d="M437.01 732.1V740.57M434.71 732.1H439.31M434.71 740.57H439.31" stroke="#151515" stroke-width="1.0" fill="none"/>
<path d="M458.61 716.2V731.45M456.31 716.2H460.91M456.31 731.45H460.91" stroke="#151515" stroke-width="1.0" fill="none"/>
<path d="M480.22 706.83V724.62M477.92 706.83H482.52M477.92 724.62H482.52" stroke="#151515" stroke-width="1.0" fill="none"/>
<path d="M501.83 692.97V716.68M499.53 692.97H504.13M499.53 716.68H504.13" stroke="#151515" stroke-width="1.0" fill="none"/>
<path d="M545.04 660.7V717.16M542.75 660.7H547.34M542.75 717.16H547.34" stroke="#151515" stroke-width="1.0" fill="none"/>
<path d="M588.26 675.21V703.44M585.96 675.21H590.56M585.96 703.44H590.56" stroke="#151515" stroke-width="1.0" fill="none"/>
<path d="M401 754.18V758.7M398.69 754.18H403.3M398.69 758.7H403.3" stroke="#151515" stroke-width="1.0" fill="none"/>
<path d="M408.2 754.18V758.7M405.9 754.18H410.5M405.9 758.7H410.5" stroke="#151515" stroke-width="1.0" fill="none"/>
<path d="M415.4 754.18V758.7M413.1 754.18H417.7M413.1 758.7H417.7" stroke="#151515" stroke-width="1.0" fill="none"/>
<path d="M437.01 724.67V735.97M434.71 724.67H439.31M434.71 735.97H439.31" stroke="#151515" stroke-width="1.0" fill="none"/>
<path d="M458.61 689.02V717.25M456.31 689.02H460.91M456.31 717.25H460.91" stroke="#151515" stroke-width="1.0" fill="none"/>
<path d="M480.22 664.26V703.78M477.92 664.26H482.52M477.92 703.78H482.52" stroke="#151515" stroke-width="1.0" fill="none"/>
<path d="M501.83 651.24V696.41M499.53 651.24H504.13M499.53 696.41H504.13" stroke="#151515" stroke-width="1.0" fill="none"/>
<path d="M545.04 650.05V679.98M542.75 650.05H547.34M542.75 679.98H547.34" stroke="#151515" stroke-width="1.0" fill="none"/>
<path d="M588.26 659.23V688.59M585.96 659.23H590.56M585.96 688.59H590.56" stroke="#151515" stroke-width="1.0" fill="none"/>
<circle cx="401" cy="746.72" r="2.45" fill="#000000"/>
<circle cx="408.2" cy="746.72" r="2.45" fill="#000000"/>
<circle cx="415.4" cy="746.72" r="2.45" fill="#000000"/>
<circle cx="437.01" cy="736.34" r="2.45" fill="#000000"/>
<circle cx="458.61" cy="723.83" r="2.45" fill="#000000"/>
<circle cx="480.22" cy="715.72" r="2.45" fill="#000000"/>
<circle cx="501.83" cy="704.83" r="2.45" fill="#000000"/>
<circle cx="545.04" cy="688.93" r="2.45" fill="#000000"/>
<circle cx="588.26" cy="689.33" r="2.45" fill="#000000"/>
<circle cx="401" cy="756.44" r="2.45" fill="#000000"/>
<circle cx="408.2" cy="756.44" r="2.45" fill="#000000"/>
<circle cx="415.4" cy="756.44" r="2.45" fill="#000000"/>
<circle cx="437.01" cy="730.32" r="2.45" fill="#000000"/>
<circle cx="458.61" cy="703.13" r="2.45" fill="#000000"/>
<circle cx="480.22" cy="684.02" r="2.45" fill="#000000"/>
<circle cx="501.83" cy="673.83" r="2.45" fill="#000000"/>
<circle cx="545.04" cy="665.02" r="2.45" fill="#000000"/>
<circle cx="588.26" cy="673.91" r="2.45" fill="#000000"/>
<path d="M401 761.3L403.61 765.94L398.38 765.94Z" fill="#5e5e5e"/>
<path d="M408.2 761.3L410.81 765.94L405.59 765.94Z" fill="#5e5e5e"/>
<path d="M415.4 761.3L418.01 765.94L412.79 765.94Z" fill="#5e5e5e"/>
<path d="M437.01 729.54L439.62 734.18L434.4 734.18Z" fill="#5e5e5e"/>
<path d="M458.61 704.33L461.22 708.97L456 708.97Z" fill="#5e5e5e"/>
<path d="M480.22 682.81L482.83 687.45L477.61 687.45Z" fill="#5e5e5e"/>
<path d="M501.83 667.62L504.44 672.26L499.22 672.26Z" fill="#5e5e5e"/>
<path d="M545.04 686.03L547.65 690.67L542.43 690.67Z" fill="#5e5e5e"/>
<path d="M588.26 715.22L590.87 719.86L585.65 719.86Z" fill="#5e5e5e"/>
<path d="M401 761.58L403.61 766.22L398.38 766.22Z" fill="#5e5e5e"/>
<path d="M408.2 761.58L410.81 766.22L405.59 766.22Z" fill="#5e5e5e"/>
<path d="M415.4 761.58L418.01 766.22L412.79 766.22Z" fill="#5e5e5e"/>
<path d="M437.01 707.23L439.62 711.87L434.4 711.87Z" fill="#5e5e5e"/>
<path d="M458.61 669.71L461.22 674.35L456 674.35Z" fill="#5e5e5e"/>
<path d="M480.22 665.82L482.83 670.46L477.61 670.46Z" fill="#5e5e5e"/>
<path d="M501.83 663.33L504.44 667.97L499.22 667.97Z" fill="#5e5e5e"/>
<path d="M545.04 683.91L547.65 688.55L542.43 688.55Z" fill="#5e5e5e"/>
<path d="M588.26 733.04L590.87 737.68L585.65 737.68Z" fill="#5e5e5e"/>
<path d="M401 760.17L403.61 764.81L398.38 764.81Z" fill="#bababa" stroke="#fff" stroke-width="1.3" paint-order="stroke" stroke-linejoin="round"/>
<path d="M408.2 760.17L410.81 764.81L405.59 764.81Z" fill="#bababa" stroke="#fff" stroke-width="1.3" paint-order="stroke" stroke-linejoin="round"/>
<path d="M415.4 760.17L418.01 764.81L412.79 764.81Z" fill="#bababa" stroke="#fff" stroke-width="1.3" paint-order="stroke" stroke-linejoin="round"/>
<path d="M437.01 723.47L439.62 728.11L434.4 728.11Z" fill="#bababa" stroke="#fff" stroke-width="1.3" paint-order="stroke" stroke-linejoin="round"/>
<path d="M458.61 691.73L461.22 696.37L456 696.37Z" fill="#bababa" stroke="#fff" stroke-width="1.3" paint-order="stroke" stroke-linejoin="round"/>
<path d="M480.22 670.02L482.83 674.66L477.61 674.66Z" fill="#bababa" stroke="#fff" stroke-width="1.3" paint-order="stroke" stroke-linejoin="round"/>
<path d="M501.83 653.93L504.44 658.57L499.22 658.57Z" fill="#bababa" stroke="#fff" stroke-width="1.3" paint-order="stroke" stroke-linejoin="round"/>
<path d="M545.04 688.04L547.65 692.68L542.43 692.68Z" fill="#bababa" stroke="#fff" stroke-width="1.3" paint-order="stroke" stroke-linejoin="round"/>
<path d="M588.26 707.43L590.87 712.07L585.65 712.07Z" fill="#bababa" stroke="#fff" stroke-width="1.3" paint-order="stroke" stroke-linejoin="round"/>
<path d="M401 762.71L403.61 767.35L398.38 767.35Z" fill="#bababa" stroke="#fff" stroke-width="1.3" paint-order="stroke" stroke-linejoin="round"/>
<path d="M408.2 762.71L410.81 767.35L405.59 767.35Z" fill="#bababa" stroke="#fff" stroke-width="1.3" paint-order="stroke" stroke-linejoin="round"/>
<path d="M415.4 762.71L418.01 767.35L412.79 767.35Z" fill="#bababa" stroke="#fff" stroke-width="1.3" paint-order="stroke" stroke-linejoin="round"/>
<path d="M437.01 707.23L439.62 711.87L434.4 711.87Z" fill="#bababa" stroke="#fff" stroke-width="1.3" paint-order="stroke" stroke-linejoin="round"/>
<path d="M458.61 669.71L461.22 674.35L456 674.35Z" fill="#bababa" stroke="#fff" stroke-width="1.3" paint-order="stroke" stroke-linejoin="round"/>
<path d="M480.22 647.21L482.83 651.85L477.61 651.85Z" fill="#bababa" stroke="#fff" stroke-width="1.3" paint-order="stroke" stroke-linejoin="round"/>
<path d="M501.83 646.11L504.44 650.75L499.22 650.75Z" fill="#bababa" stroke="#fff" stroke-width="1.3" paint-order="stroke" stroke-linejoin="round"/>
<path d="M545.04 687.02L547.65 691.66L542.43 691.66Z" fill="#bababa" stroke="#fff" stroke-width="1.3" paint-order="stroke" stroke-linejoin="round"/>
<path d="M588.26 734.03L590.87 738.67L585.65 738.67Z" fill="#bababa" stroke="#fff" stroke-width="1.3" paint-order="stroke" stroke-linejoin="round"/>
</svg>
</body></html>
